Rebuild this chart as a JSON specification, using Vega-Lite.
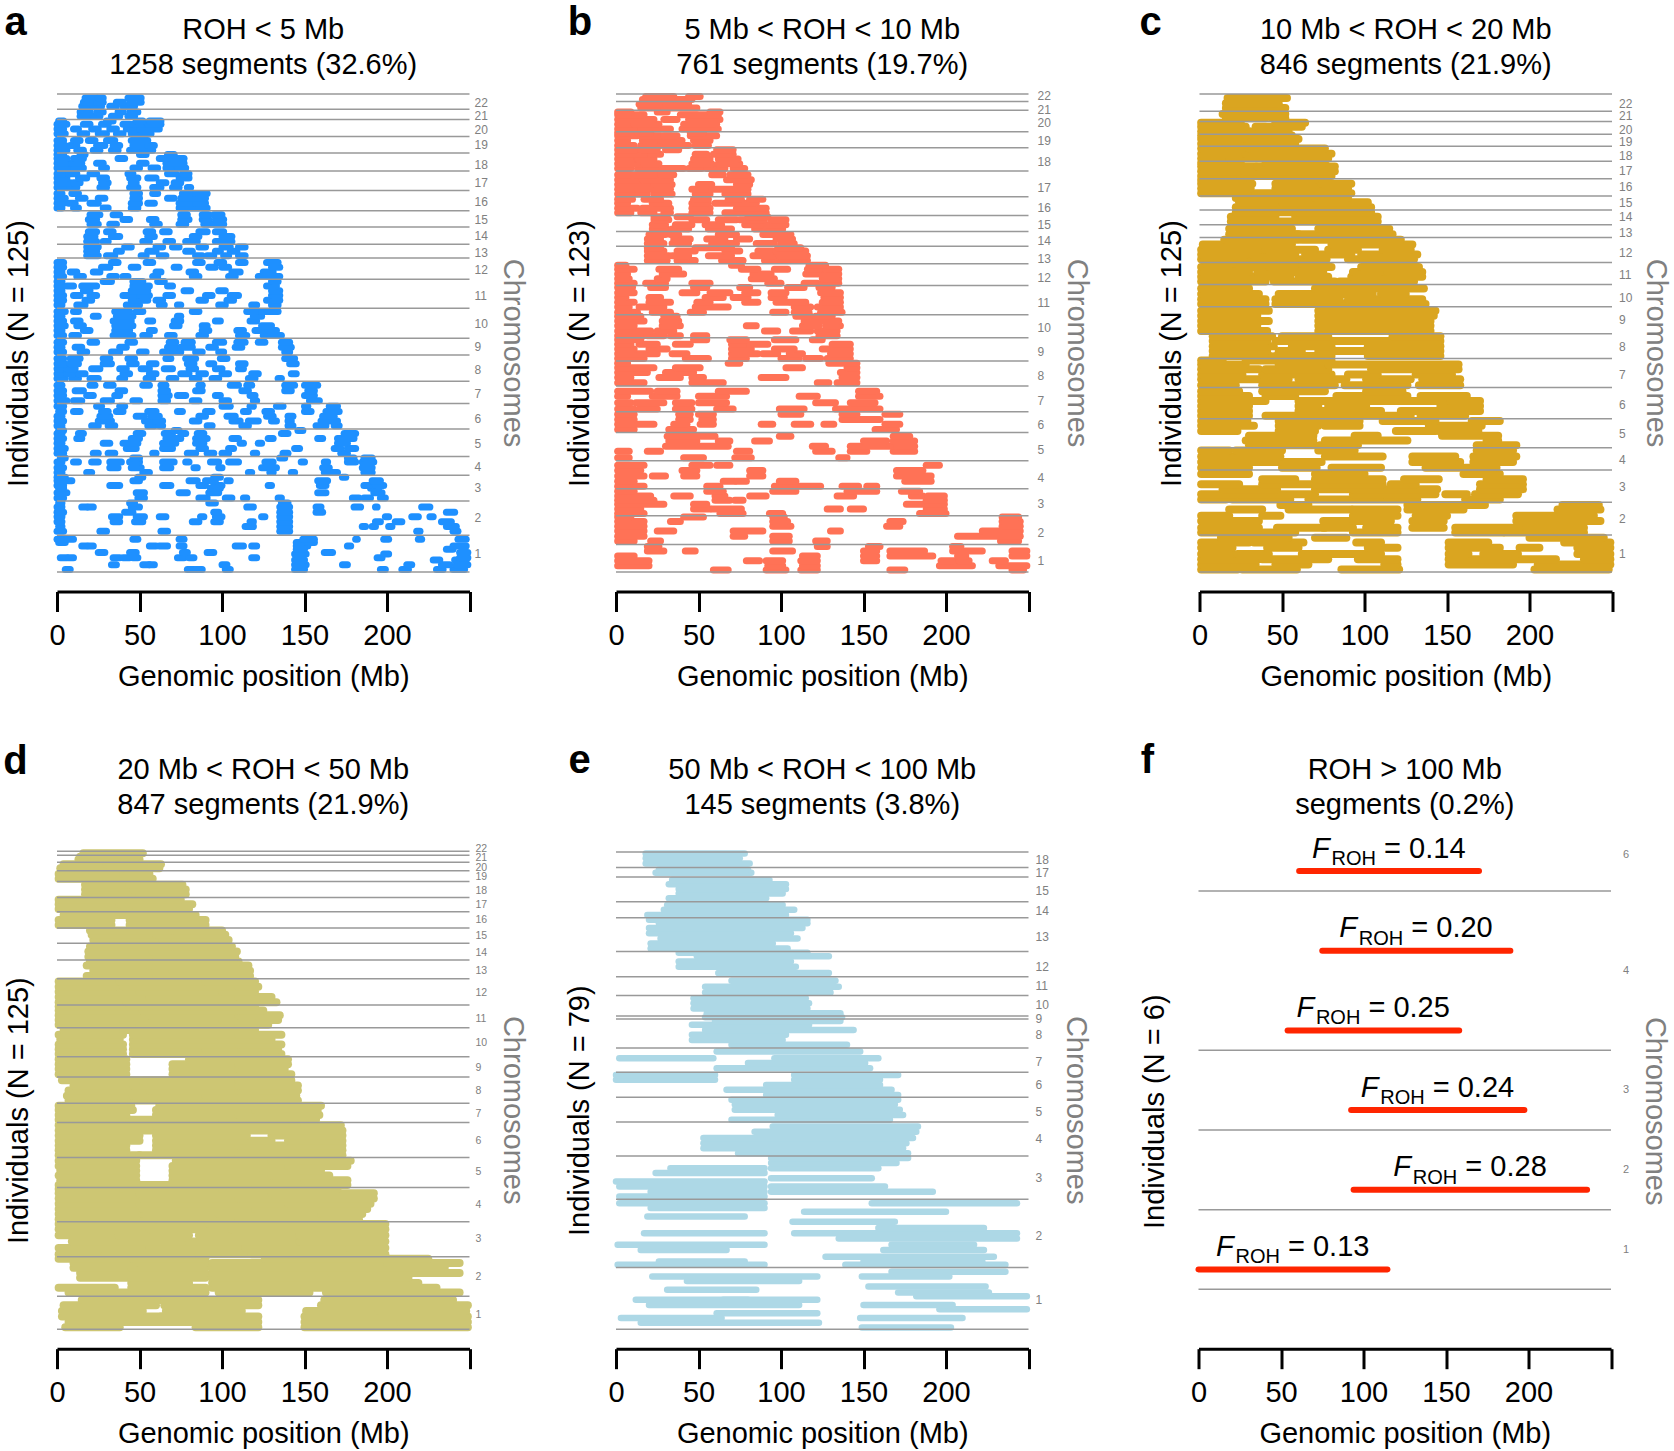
{
"$schema":"https://vega.github.io/schema/vega-lite/v6.json",
"padding":{"left":2,"top":2,"right":4,"bottom":0},
"config":{
"view":{"stroke":null},
"font":"Liberation Sans",
"axisX":{"domainColor":"#000000","domainWidth":3,"tickColor":"#000000","tickWidth":3,"tickSize":20,"labelFontSize":29,"labelColor":"#000000","labelPadding":10,"labelFont":"Liberation Sans","labelFlush":false,"labelOverlap":false,"titleFont":"Liberation Sans","titleFontSize":29,"titleFontWeight":"normal","titleColor":"#000000","titleY":71,"titleBaseline":"top","grid":false,"offset":19.5},
"axisY":{"domain":false,"ticks":false,"labels":false,"grid":false,"titleFont":"Liberation Sans","titleFontSize":29,"titleFontWeight":"normal","titleColor":"#000000","titleAlign":"center","titleBaseline":"middle"},
"text":{"font":"Liberation Sans"}
},
"datasets":{
"sa":[
{"y":0.6,"s":5,"e":8},{"y":0.6,"s":79,"e":83},{"y":0.6,"s":84,"e":88},{"y":0.6,"s":102,"e":105},{"y":0.6,"s":144,"e":150},{"y":0.6,"s":196,"e":199},{"y":0.6,"s":209,"e":213},{"y":0.6,"s":230,"e":234},{"y":0.6,"s":240,"e":247},
{"y":1.8,"s":33,"e":36},{"y":1.8,"s":52,"e":56},{"y":1.8,"s":56,"e":59},{"y":1.8,"s":100,"e":103},{"y":1.8,"s":144,"e":151},{"y":1.8,"s":173,"e":176},{"y":1.8,"s":212,"e":215},{"y":1.8,"s":233,"e":238},{"y":1.8,"s":242,"e":249},
{"y":3,"s":144,"e":150},{"y":3,"s":228,"e":232},{"y":3,"s":241,"e":248},
{"y":3.6,"s":2,"e":6},{"y":3.6,"s":7,"e":10},{"y":3.6,"s":34,"e":38},{"y":3.6,"s":40,"e":44},{"y":3.6,"s":46,"e":49},{"y":3.6,"s":73,"e":77},{"y":3.6,"s":80,"e":83},{"y":3.6,"s":118,"e":121},{"y":3.6,"s":194,"e":197},{"y":3.6,"s":244,"e":249},
{"y":4.5,"s":144,"e":151},{"y":4.5,"s":198,"e":201},
{"y":4.9,"s":25,"e":29},{"y":4.9,"s":44,"e":48},{"y":4.9,"s":76,"e":79},{"y":4.9,"s":91,"e":95},{"y":4.9,"s":162,"e":167},{"y":4.9,"s":244,"e":249},
{"y":5.7,"s":145,"e":150},{"y":5.7,"s":236,"e":240},
{"y":6.5,"s":15,"e":18},{"y":6.5,"s":19,"e":22},{"y":6.5,"s":56,"e":60},{"y":6.5,"s":62,"e":67},{"y":6.5,"s":74,"e":77},{"y":6.5,"s":108,"e":113},{"y":6.5,"s":118,"e":121},{"y":6.5,"s":145,"e":152},{"y":6.5,"s":176,"e":178},{"y":6.5,"s":240,"e":248},
{"y":7.4,"s":1,"e":5},{"y":7.4,"s":145,"e":150},{"y":7.4,"s":152,"e":156},
{"y":8.2,"s":0,"e":4},{"y":8.2,"s":6,"e":10},{"y":8.2,"s":46,"e":49},{"y":8.2,"s":74,"e":77},{"y":8.2,"s":149,"e":156},{"y":8.2,"s":181,"e":182},{"y":8.2,"s":198,"e":201},{"y":8.2,"s":219,"e":221},{"y":8.2,"s":243,"e":248},
{"y":10.2,"s":0,"e":4},{"y":10.2,"s":26,"e":30},{"y":10.2,"s":63,"e":67},{"y":10.2,"s":135,"e":141},{"y":10.2,"s":218,"e":220},{"y":10.2,"s":240,"e":243},
{"y":11.4,"s":1,"e":3},{"y":11.4,"s":114,"e":119},{"y":11.4,"s":135,"e":141},{"y":11.4,"s":185,"e":187},{"y":11.4,"s":191,"e":193},{"y":11.4,"s":201,"e":203},{"y":11.4,"s":236,"e":242},
{"y":12.6,"s":0,"e":3},{"y":12.6,"s":34,"e":38},{"y":12.6,"s":47,"e":52},{"y":12.6,"s":82,"e":86},{"y":12.6,"s":95,"e":99},{"y":12.6,"s":117,"e":119},{"y":12.6,"s":135,"e":141},{"y":12.6,"s":193,"e":196},{"y":12.6,"s":205,"e":209},{"y":12.6,"s":233,"e":239},
{"y":13.9,"s":0,"e":3},{"y":13.9,"s":33,"e":38},{"y":13.9,"s":48,"e":53},{"y":13.9,"s":62,"e":66},{"y":13.9,"s":87,"e":89},{"y":13.9,"s":96,"e":100},{"y":13.9,"s":124,"e":126},{"y":13.9,"s":135,"e":141},{"y":13.9,"s":199,"e":201},{"y":13.9,"s":215,"e":219},{"y":13.9,"s":226,"e":228},
{"y":15,"s":0,"e":4},{"y":15,"s":41,"e":46},{"y":15,"s":95,"e":98},{"y":15,"s":135,"e":141},{"y":15,"s":157,"e":161},{"y":15,"s":236,"e":241},
{"y":16.3,"s":0,"e":3},{"y":16.3,"s":15,"e":18},{"y":16.3,"s":19,"e":22},{"y":16.3,"s":45,"e":50},{"y":16.3,"s":115,"e":119},{"y":16.3,"s":135,"e":141},{"y":16.3,"s":157,"e":160},{"y":16.3,"s":180,"e":184},{"y":16.3,"s":193,"e":194},{"y":16.3,"s":221,"e":226},
{"y":17.3,"s":1,"e":3},{"y":17.3,"s":44,"e":47},{"y":17.3,"s":92,"e":96},{"y":17.3,"s":136,"e":140},
{"y":18.6,"s":0,"e":4},{"y":18.6,"s":49,"e":53},{"y":18.6,"s":86,"e":91},{"y":18.6,"s":102,"e":106},{"y":18.6,"s":113,"e":115},{"y":18.6,"s":134,"e":136},{"y":18.6,"s":179,"e":183},{"y":18.6,"s":186,"e":190},{"y":18.6,"s":196,"e":199},
{"y":19.9,"s":0,"e":6},{"y":19.9,"s":48,"e":53},{"y":19.9,"s":74,"e":79},{"y":19.9,"s":92,"e":98},{"y":19.9,"s":158,"e":163},{"y":19.9,"s":192,"e":197},
{"y":21,"s":1,"e":4},{"y":21,"s":93,"e":99},{"y":21,"s":190,"e":195},
{"y":21.7,"s":0,"e":4},{"y":21.7,"s":32,"e":38},{"y":21.7,"s":64,"e":69},{"y":21.7,"s":86,"e":90},{"y":21.7,"s":95,"e":100},{"y":21.7,"s":128,"e":130},{"y":21.7,"s":159,"e":163},{"y":21.7,"s":186,"e":190},{"y":21.7,"s":193,"e":198},
{"y":22.9,"s":0,"e":9},{"y":22.9,"s":46,"e":50},{"y":22.9,"s":80,"e":85},{"y":22.9,"s":90,"e":96},{"y":22.9,"s":103,"e":105},{"y":22.9,"s":158,"e":164},{"y":22.9,"s":191,"e":196},
{"y":23.8,"s":0,"e":5},{"y":23.8,"s":49,"e":52},{"y":23.8,"s":95,"e":99},{"y":23.8,"s":173,"e":175},
{"y":25,"s":0,"e":3},{"y":25,"s":18,"e":21},{"y":25,"s":52,"e":56},{"y":25,"s":116,"e":118},{"y":25,"s":129,"e":131},{"y":25,"s":142,"e":144},{"y":25,"s":162,"e":170},{"y":25,"s":186,"e":191},
{"y":26.2,"s":0,"e":4},{"y":26.2,"s":32,"e":37},{"y":26.2,"s":45,"e":51},{"y":26.2,"s":64,"e":69},{"y":26.2,"s":83,"e":85},{"y":26.2,"s":98,"e":100},{"y":26.2,"s":124,"e":133},{"y":26.2,"s":161,"e":165},{"y":26.2,"s":185,"e":191},
{"y":27.6,"s":0,"e":3},{"y":27.6,"s":10,"e":13},{"y":27.6,"s":21,"e":25},{"y":27.6,"s":32,"e":39},{"y":27.6,"s":44,"e":50},{"y":27.6,"s":64,"e":71},{"y":27.6,"s":78,"e":80},{"y":27.6,"s":93,"e":98},{"y":27.6,"s":104,"e":110},{"y":27.6,"s":126,"e":131},{"y":27.6,"s":148,"e":150},{"y":27.6,"s":162,"e":164},{"y":27.6,"s":176,"e":181},{"y":27.6,"s":185,"e":192},
{"y":28.6,"s":2,"e":5},{"y":28.6,"s":46,"e":50},{"y":28.6,"s":135,"e":138},{"y":28.6,"s":176,"e":180},{"y":28.6,"s":186,"e":191},
{"y":29.8,"s":0,"e":4},{"y":29.8,"s":22,"e":25},{"y":29.8,"s":31,"e":35},{"y":29.8,"s":58,"e":60},{"y":29.8,"s":79,"e":84},{"y":29.8,"s":91,"e":95},{"y":29.8,"s":100,"e":104},{"y":29.8,"s":119,"e":121},{"y":29.8,"s":137,"e":140},{"y":29.8,"s":172,"e":176},
{"y":31,"s":0,"e":5},{"y":31,"s":42,"e":48},{"y":31,"s":64,"e":70},{"y":31,"s":86,"e":90},{"y":31,"s":104,"e":107},{"y":31,"s":144,"e":147},{"y":31,"s":168,"e":172},{"y":31,"s":176,"e":181},
{"y":32.3,"s":0,"e":3},{"y":32.3,"s":28,"e":32},{"y":32.3,"s":40,"e":49},{"y":32.3,"s":64,"e":72},{"y":32.3,"s":84,"e":89},{"y":32.3,"s":111,"e":113},{"y":32.3,"s":122,"e":124},{"y":32.3,"s":170,"e":176},
{"y":33.5,"s":0,"e":4},{"y":33.5,"s":12,"e":15},{"y":33.5,"s":45,"e":50},{"y":33.5,"s":66,"e":75},{"y":33.5,"s":84,"e":91},{"y":33.5,"s":106,"e":110},{"y":33.5,"s":128,"e":131},{"y":33.5,"s":158,"e":161},{"y":33.5,"s":170,"e":180},
{"y":34.8,"s":0,"e":3},{"y":34.8,"s":13,"e":16},{"y":34.8,"s":48,"e":52},{"y":34.8,"s":65,"e":70},{"y":34.8,"s":75,"e":78},{"y":34.8,"s":85,"e":89},{"y":34.8,"s":136,"e":140},{"y":34.8,"s":174,"e":181},
{"y":35.5,"s":1,"e":4},{"y":35.5,"s":71,"e":74},{"y":35.5,"s":146,"e":149},
{"y":36.7,"s":0,"e":3},{"y":36.7,"s":21,"e":25},{"y":36.7,"s":31,"e":35},{"y":36.7,"s":55,"e":59},{"y":36.7,"s":62,"e":64},{"y":36.7,"s":91,"e":94},{"y":36.7,"s":112,"e":116},{"y":36.7,"s":140,"e":143},{"y":36.7,"s":157,"e":163},{"y":36.7,"s":168,"e":171},
{"y":37.9,"s":0,"e":4},{"y":37.9,"s":25,"e":33},{"y":37.9,"s":53,"e":58},{"y":37.9,"s":60,"e":64},{"y":37.9,"s":82,"e":86},{"y":37.9,"s":106,"e":111},{"y":37.9,"s":116,"e":122},{"y":37.9,"s":130,"e":133},{"y":37.9,"s":140,"e":142},{"y":37.9,"s":160,"e":170},
{"y":39.1,"s":0,"e":3},{"y":39.1,"s":26,"e":32},{"y":39.1,"s":48,"e":53},{"y":39.1,"s":57,"e":62},{"y":39.1,"s":86,"e":90},{"y":39.1,"s":103,"e":108},{"y":39.1,"s":127,"e":131},{"y":39.1,"s":140,"e":143},{"y":39.1,"s":161,"e":168},
{"y":40.3,"s":1,"e":4},{"y":40.3,"s":10,"e":14},{"y":40.3,"s":27,"e":31},{"y":40.3,"s":36,"e":40},{"y":40.3,"s":55,"e":60},{"y":40.3,"s":73,"e":76},{"y":40.3,"s":90,"e":94},{"y":40.3,"s":113,"e":116},{"y":40.3,"s":126,"e":130},{"y":40.3,"s":150,"e":154},{"y":40.3,"s":163,"e":171},
{"y":41.6,"s":0,"e":4},{"y":41.6,"s":24,"e":27},{"y":41.6,"s":38,"e":41},{"y":41.6,"s":100,"e":105},{"y":41.6,"s":117,"e":119},{"y":41.6,"s":133,"e":137},{"y":41.6,"s":150,"e":152},{"y":41.6,"s":165,"e":170},
{"y":43,"s":0,"e":6},{"y":43,"s":10,"e":15},{"y":43,"s":28,"e":33},{"y":43,"s":46,"e":50},{"y":43,"s":63,"e":67},{"y":43,"s":82,"e":86},{"y":43,"s":100,"e":104},{"y":43,"s":119,"e":121},{"y":43,"s":153,"e":159},
{"y":44.3,"s":0,"e":4},{"y":44.3,"s":18,"e":22},{"y":44.3,"s":35,"e":38},{"y":44.3,"s":63,"e":68},{"y":44.3,"s":73,"e":78},{"y":44.3,"s":96,"e":99},{"y":44.3,"s":117,"e":120},{"y":44.3,"s":150,"e":156},
{"y":45.5,"s":0,"e":4},{"y":45.5,"s":11,"e":16},{"y":45.5,"s":37,"e":41},{"y":45.5,"s":63,"e":67},{"y":45.5,"s":84,"e":88},{"y":45.5,"s":112,"e":116},{"y":45.5,"s":138,"e":142},{"y":45.5,"s":152,"e":156},
{"y":46.9,"s":0,"e":3},{"y":46.9,"s":20,"e":23},{"y":46.9,"s":30,"e":34},{"y":46.9,"s":52,"e":56},{"y":46.9,"s":63,"e":66},{"y":46.9,"s":86,"e":88},{"y":46.9,"s":105,"e":110},{"y":46.9,"s":115,"e":118},{"y":46.9,"s":138,"e":144},{"y":46.9,"s":150,"e":158},
{"y":48.6,"s":0,"e":5},{"y":48.6,"s":9,"e":13},{"y":48.6,"s":20,"e":25},{"y":48.6,"s":38,"e":41},{"y":48.6,"s":54,"e":58},{"y":48.6,"s":68,"e":72},{"y":48.6,"s":82,"e":86},{"y":48.6,"s":94,"e":98},{"y":48.6,"s":116,"e":120},{"y":48.6,"s":134,"e":136},
{"y":49.8,"s":0,"e":4},{"y":49.8,"s":6,"e":10},{"y":49.8,"s":13,"e":17},{"y":49.8,"s":40,"e":44},{"y":49.8,"s":56,"e":60},{"y":49.8,"s":75,"e":80},{"y":49.8,"s":86,"e":90},{"y":49.8,"s":100,"e":104},{"y":49.8,"s":118,"e":122},{"y":49.8,"s":142,"e":145},
{"y":51,"s":0,"e":3},{"y":51,"s":6,"e":11},{"y":51,"s":21,"e":26},{"y":51,"s":38,"e":42},{"y":51,"s":51,"e":56},{"y":51,"s":65,"e":70},{"y":51,"s":80,"e":84},{"y":51,"s":96,"e":100},{"y":51,"s":110,"e":113},
{"y":52.3,"s":0,"e":5},{"y":52.3,"s":8,"e":13},{"y":52.3,"s":28,"e":33},{"y":52.3,"s":44,"e":48},{"y":52.3,"s":56,"e":60},{"y":52.3,"s":79,"e":83},{"y":52.3,"s":92,"e":95},{"y":52.3,"s":110,"e":114},{"y":52.3,"s":141,"e":145},
{"y":53.6,"s":0,"e":4},{"y":53.6,"s":8,"e":14},{"y":53.6,"s":28,"e":32},{"y":53.6,"s":43,"e":47},{"y":53.6,"s":66,"e":69},{"y":53.6,"s":78,"e":84},{"y":53.6,"s":99,"e":103},{"y":53.6,"s":138,"e":144},
{"y":55.2,"s":0,"e":4},{"y":55.2,"s":14,"e":18},{"y":55.2,"s":33,"e":38},{"y":55.2,"s":50,"e":54},{"y":55.2,"s":64,"e":69},{"y":55.2,"s":70,"e":75},{"y":55.2,"s":84,"e":88},{"y":55.2,"s":98,"e":101},{"y":55.2,"s":138,"e":141},
{"y":56.4,"s":0,"e":3},{"y":56.4,"s":11,"e":15},{"y":56.4,"s":38,"e":42},{"y":56.4,"s":67,"e":72},{"y":56.4,"s":75,"e":82},{"y":56.4,"s":92,"e":96},{"y":56.4,"s":108,"e":112},{"y":56.4,"s":136,"e":142},
{"y":57.7,"s":0,"e":4},{"y":57.7,"s":20,"e":24},{"y":57.7,"s":43,"e":47},{"y":57.7,"s":68,"e":72},{"y":57.7,"s":77,"e":82},{"y":57.7,"s":96,"e":101},{"y":57.7,"s":109,"e":114},{"y":57.7,"s":122,"e":126},{"y":57.7,"s":136,"e":141},
{"y":59.4,"s":0,"e":4},{"y":59.4,"s":9,"e":13},{"y":59.4,"s":34,"e":46},{"y":59.4,"s":52,"e":56},{"y":59.4,"s":67,"e":71},{"y":59.4,"s":86,"e":90},{"y":59.4,"s":110,"e":115},{"y":59.4,"s":125,"e":128},{"y":59.4,"s":129,"e":136},
{"y":60.6,"s":0,"e":3},{"y":60.6,"s":16,"e":20},{"y":60.6,"s":35,"e":44},{"y":60.6,"s":56,"e":59},{"y":60.6,"s":88,"e":92},{"y":60.6,"s":109,"e":113},{"y":60.6,"s":120,"e":125},{"y":60.6,"s":128,"e":133},
{"y":61.8,"s":0,"e":5},{"y":61.8,"s":12,"e":16},{"y":61.8,"s":35,"e":46},{"y":61.8,"s":70,"e":74},{"y":61.8,"s":88,"e":91},{"y":61.8,"s":124,"e":130},
{"y":63,"s":0,"e":4},{"y":63,"s":10,"e":14},{"y":63,"s":34,"e":45},{"y":63,"s":55,"e":58},{"y":63,"s":71,"e":75},{"y":63,"s":96,"e":99},{"y":63,"s":117,"e":121},
{"y":64.2,"s":0,"e":3},{"y":64.2,"s":22,"e":25},{"y":64.2,"s":36,"e":46},{"y":64.2,"s":73,"e":75},{"y":64.2,"s":119,"e":124},
{"y":65.4,"s":0,"e":5},{"y":65.4,"s":10,"e":13},{"y":65.4,"s":35,"e":44},{"y":65.4,"s":48,"e":52},{"y":65.4,"s":82,"e":86},{"y":65.4,"s":115,"e":121},{"y":65.4,"s":124,"e":127},{"y":65.4,"s":128,"e":134},
{"y":67,"s":0,"e":3},{"y":67,"s":12,"e":17},{"y":67,"s":42,"e":50},{"y":67,"s":62,"e":65},{"y":67,"s":73,"e":75},{"y":67,"s":98,"e":102},{"y":67,"s":118,"e":121},{"y":67,"s":130,"e":134},
{"y":68.2,"s":0,"e":4},{"y":68.2,"s":17,"e":21},{"y":68.2,"s":45,"e":55},{"y":68.2,"s":60,"e":64},{"y":68.2,"s":86,"e":90},{"y":68.2,"s":103,"e":107},{"y":68.2,"s":127,"e":135},
{"y":69.4,"s":0,"e":4},{"y":69.4,"s":10,"e":14},{"y":69.4,"s":20,"e":24},{"y":69.4,"s":40,"e":48},{"y":69.4,"s":50,"e":56},{"y":69.4,"s":66,"e":70},{"y":69.4,"s":90,"e":94},{"y":69.4,"s":105,"e":110},{"y":69.4,"s":130,"e":135},
{"y":70.6,"s":0,"e":3},{"y":70.6,"s":16,"e":20},{"y":70.6,"s":45,"e":55},{"y":70.6,"s":77,"e":81},{"y":70.6,"s":98,"e":102},{"y":70.6,"s":130,"e":135},
{"y":71.8,"s":0,"e":4},{"y":71.8,"s":6,"e":10},{"y":71.8,"s":15,"e":24},{"y":71.8,"s":46,"e":56},{"y":71.8,"s":67,"e":70},{"y":71.8,"s":127,"e":133},
{"y":72.9,"s":0,"e":3},{"y":72.9,"s":28,"e":33},{"y":72.9,"s":46,"e":52},{"y":72.9,"s":61,"e":65},{"y":72.9,"s":130,"e":134},
{"y":74.2,"s":0,"e":4},{"y":74.2,"s":12,"e":16},{"y":74.2,"s":32,"e":36},{"y":74.2,"s":40,"e":43},{"y":74.2,"s":58,"e":61},{"y":74.2,"s":82,"e":86},{"y":74.2,"s":104,"e":108},{"y":74.2,"s":122,"e":127},{"y":74.2,"s":129,"e":135},
{"y":75.3,"s":0,"e":3},{"y":75.3,"s":8,"e":12},{"y":75.3,"s":22,"e":26},{"y":75.3,"s":60,"e":63},{"y":75.3,"s":80,"e":84},{"y":75.3,"s":106,"e":111},{"y":75.3,"s":125,"e":131},
{"y":76.5,"s":0,"e":4},{"y":76.5,"s":27,"e":32},{"y":76.5,"s":45,"e":49},{"y":76.5,"s":71,"e":74},{"y":76.5,"s":92,"e":96},{"y":76.5,"s":100,"e":104},{"y":76.5,"s":130,"e":135},
{"y":77.7,"s":0,"e":4},{"y":77.7,"s":33,"e":37},{"y":77.7,"s":54,"e":58},{"y":77.7,"s":84,"e":88},{"y":77.7,"s":97,"e":101},{"y":77.7,"s":110,"e":114},{"y":77.7,"s":127,"e":134},
{"y":79.4,"s":18,"e":25},{"y":79.4,"s":30,"e":35},{"y":79.4,"s":51,"e":54},{"y":79.4,"s":62,"e":66},{"y":79.4,"s":84,"e":88},{"y":79.4,"s":91,"e":95},{"y":79.4,"s":101,"e":104},{"y":79.4,"s":110,"e":114},
{"y":80.5,"s":18,"e":24},{"y":80.5,"s":36,"e":39},{"y":80.5,"s":55,"e":60},{"y":80.5,"s":78,"e":82},{"y":80.5,"s":96,"e":99},{"y":80.5,"s":105,"e":109},
{"y":81.6,"s":18,"e":25},{"y":81.6,"s":41,"e":45},{"y":81.6,"s":60,"e":64},{"y":81.6,"s":70,"e":74},{"y":81.6,"s":86,"e":90},{"y":81.6,"s":100,"e":105},{"y":81.6,"s":110,"e":114},
{"y":83,"s":18,"e":24},{"y":83,"s":28,"e":31},{"y":83,"s":52,"e":56},{"y":83,"s":66,"e":70},{"y":83,"s":78,"e":85},{"y":83,"s":96,"e":100},{"y":83,"s":101,"e":106},
{"y":84.2,"s":18,"e":23},{"y":84.2,"s":33,"e":38},{"y":84.2,"s":55,"e":59},{"y":84.2,"s":82,"e":86},{"y":84.2,"s":100,"e":106},
{"y":85.4,"s":19,"e":24},{"y":85.4,"s":30,"e":34},{"y":85.4,"s":54,"e":58},{"y":85.4,"s":64,"e":68},{"y":85.4,"s":86,"e":91},{"y":85.4,"s":96,"e":101},
{"y":87.3,"s":20,"e":25},{"y":87.3,"s":32,"e":36},{"y":87.3,"s":58,"e":62},{"y":87.3,"s":74,"e":78},{"y":87.3,"s":89,"e":94},{"y":87.3,"s":95,"e":101},
{"y":88.5,"s":19,"e":24},{"y":88.5,"s":40,"e":44},{"y":88.5,"s":56,"e":60},{"y":88.5,"s":75,"e":80},{"y":88.5,"s":88,"e":92},{"y":88.5,"s":96,"e":101},
{"y":89.7,"s":20,"e":26},{"y":89.7,"s":34,"e":38},{"y":89.7,"s":75,"e":79},{"y":89.7,"s":88,"e":92},{"y":89.7,"s":95,"e":100},
{"y":91.4,"s":0,"e":3},{"y":91.4,"s":10,"e":13},{"y":91.4,"s":28,"e":31},{"y":91.4,"s":45,"e":49},{"y":91.4,"s":74,"e":91},
{"y":92.6,"s":0,"e":4},{"y":92.6,"s":7,"e":11},{"y":92.6,"s":20,"e":25},{"y":92.6,"s":45,"e":50},{"y":92.6,"s":55,"e":59},{"y":92.6,"s":74,"e":82},{"y":92.6,"s":84,"e":90},
{"y":93.8,"s":0,"e":5},{"y":93.8,"s":13,"e":17},{"y":93.8,"s":25,"e":29},{"y":93.8,"s":46,"e":50},{"y":93.8,"s":67,"e":71},{"y":93.8,"s":75,"e":90},
{"y":95,"s":0,"e":3},{"y":95,"s":9,"e":13},{"y":95,"s":46,"e":50},{"y":95,"s":58,"e":61},{"y":95,"s":76,"e":82},{"y":95,"s":84,"e":91},
{"y":96.5,"s":0,"e":5},{"y":96.5,"s":8,"e":12},{"y":96.5,"s":26,"e":30},{"y":96.5,"s":44,"e":49},{"y":96.5,"s":58,"e":63},{"y":96.5,"s":70,"e":74},{"y":96.5,"s":79,"e":81},
{"y":97.7,"s":0,"e":8},{"y":97.7,"s":10,"e":14},{"y":97.7,"s":27,"e":31},{"y":97.7,"s":45,"e":48},{"y":97.7,"s":62,"e":66},{"y":97.7,"s":71,"e":75},
{"y":98.9,"s":0,"e":6},{"y":98.9,"s":13,"e":18},{"y":98.9,"s":26,"e":30},{"y":98.9,"s":44,"e":49},{"y":98.9,"s":55,"e":60},{"y":98.9,"s":74,"e":80},
{"y":100,"s":0,"e":4},{"y":100,"s":7,"e":12},{"y":100,"s":20,"e":24},{"y":100,"s":43,"e":46},{"y":100,"s":67,"e":72},{"y":100,"s":76,"e":80},
{"y":101.4,"s":0,"e":8},{"y":101.4,"s":10,"e":16},{"y":101.4,"s":27,"e":30},{"y":101.4,"s":46,"e":50},{"y":101.4,"s":57,"e":61},{"y":101.4,"s":66,"e":72},{"y":101.4,"s":73,"e":78},
{"y":102.6,"s":0,"e":7},{"y":102.6,"s":9,"e":15},{"y":102.6,"s":24,"e":28},{"y":102.6,"s":50,"e":54},{"y":102.6,"s":66,"e":77},
{"y":103.8,"s":0,"e":6},{"y":103.8,"s":10,"e":16},{"y":103.8,"s":37,"e":41},{"y":103.8,"s":62,"e":67},{"y":103.8,"s":69,"e":77},
{"y":104.8,"s":0,"e":4},{"y":104.8,"s":14,"e":17},{"y":104.8,"s":50,"e":54},{"y":104.8,"s":67,"e":71},
{"y":105.9,"s":0,"e":6},{"y":105.9,"s":12,"e":16},{"y":105.9,"s":22,"e":26},{"y":105.9,"s":33,"e":37},{"y":105.9,"s":44,"e":49},{"y":105.9,"s":52,"e":58},
{"y":107.1,"s":0,"e":5},{"y":107.1,"s":8,"e":12},{"y":107.1,"s":24,"e":29},{"y":107.1,"s":34,"e":38},{"y":107.1,"s":46,"e":54},{"y":107.1,"s":55,"e":59},
{"y":108.3,"s":0,"e":4},{"y":108.3,"s":10,"e":14},{"y":108.3,"s":19,"e":23},{"y":108.3,"s":30,"e":35},{"y":108.3,"s":45,"e":55},
{"y":110,"s":0,"e":5},{"y":110,"s":14,"e":18},{"y":110,"s":25,"e":30},{"y":110,"s":36,"e":40},{"y":110,"s":45,"e":57},
{"y":111.2,"s":0,"e":4},{"y":111.2,"s":10,"e":13},{"y":111.2,"s":21,"e":25},{"y":111.2,"s":32,"e":36},{"y":111.2,"s":42,"e":48},{"y":111.2,"s":50,"e":62},
{"y":112.4,"s":0,"e":6},{"y":112.4,"s":16,"e":20},{"y":112.4,"s":27,"e":31},{"y":112.4,"s":40,"e":44},{"y":112.4,"s":46,"e":53},{"y":112.4,"s":55,"e":63},
{"y":113.2,"s":1,"e":4},{"y":113.2,"s":30,"e":34},{"y":113.2,"s":48,"e":52},{"y":113.2,"s":56,"e":63},
{"y":114.4,"s":14,"e":19},{"y":114.4,"s":22,"e":26},{"y":114.4,"s":33,"e":38},{"y":114.4,"s":43,"e":47},
{"y":115.5,"s":14,"e":20},{"y":115.5,"s":24,"e":28},{"y":115.5,"s":37,"e":40},{"y":115.5,"s":44,"e":49},
{"y":116.9,"s":15,"e":19},{"y":116.9,"s":22,"e":27},{"y":116.9,"s":32,"e":36},{"y":116.9,"s":40,"e":47},
{"y":117.9,"s":16,"e":22},{"y":117.9,"s":24,"e":28},{"y":117.9,"s":36,"e":40},{"y":117.9,"s":44,"e":51},
{"y":119,"s":17,"e":24},{"y":119,"s":25,"e":28},{"y":119,"s":43,"e":51}
],
"sb":[
{"y":0.5,"s":59,"e":68},{"y":0.5,"s":91,"e":103},{"y":0.5,"s":112,"e":122},{"y":0.5,"s":166,"e":175},{"y":0.5,"s":240,"e":247},
{"y":1.6,"s":1,"e":20},{"y":1.6,"s":92,"e":101},{"y":1.6,"s":113,"e":122},{"y":1.6,"s":196,"e":216},{"y":1.6,"s":232,"e":249},
{"y":2.8,"s":1,"e":20},{"y":2.8,"s":79,"e":87},{"y":2.8,"s":91,"e":101},{"y":2.8,"s":112,"e":122},{"y":2.8,"s":150,"e":158},{"y":2.8,"s":197,"e":205},{"y":2.8,"s":208,"e":214},{"y":2.8,"s":228,"e":236},
{"y":4,"s":1,"e":11},{"y":4,"s":113,"e":122},{"y":4,"s":150,"e":158},{"y":4,"s":166,"e":192},{"y":4,"s":207,"e":212},{"y":4,"s":240,"e":249},
{"y":5.3,"s":19,"e":29},{"y":5.3,"s":42,"e":48},{"y":5.3,"s":95,"e":107},{"y":5.3,"s":150,"e":158},{"y":5.3,"s":166,"e":187},{"y":5.3,"s":204,"e":222},{"y":5.3,"s":240,"e":249},
{"y":6.4,"s":19,"e":26},{"y":6.4,"s":122,"e":128},{"y":6.4,"s":153,"e":160},{"y":6.4,"s":204,"e":209},
{"y":7.8,"s":1,"e":11},{"y":7.8,"s":21,"e":27},{"y":7.8,"s":95,"e":105},{"y":7.8,"s":121,"e":128},{"y":7.8,"s":233,"e":244},
{"y":9,"s":1,"e":17},{"y":9,"s":71,"e":78},{"y":9,"s":95,"e":105},{"y":9,"s":207,"e":245},
{"y":10.3,"s":1,"e":17},{"y":10.3,"s":25,"e":35},{"y":10.3,"s":71,"e":89},{"y":10.3,"s":130,"e":136},{"y":10.3,"s":222,"e":245},
{"y":11.5,"s":1,"e":17},{"y":11.5,"s":95,"e":106},{"y":11.5,"s":164,"e":172},{"y":11.5,"s":234,"e":245},
{"y":12.7,"s":1,"e":17},{"y":12.7,"s":33,"e":39},{"y":12.7,"s":95,"e":104},{"y":12.7,"s":166,"e":174},{"y":12.7,"s":234,"e":245},
{"y":13.8,"s":1,"e":9},{"y":13.8,"s":41,"e":53},{"y":13.8,"s":95,"e":102},{"y":13.8,"s":234,"e":244},
{"y":14.7,"s":1,"e":17},{"y":14.7,"s":63,"e":77},{"y":14.7,"s":93,"e":101},{"y":14.7,"s":184,"e":200},
{"y":15.8,"s":1,"e":15},{"y":15.8,"s":47,"e":57},{"y":15.8,"s":58,"e":76},{"y":15.8,"s":128,"e":136},{"y":15.8,"s":142,"e":150},{"y":15.8,"s":188,"e":199},
{"y":17,"s":1,"e":29},{"y":17,"s":47,"e":55},{"y":17,"s":176,"e":187},{"y":17,"s":189,"e":199},
{"y":18,"s":1,"e":23},{"y":18,"s":60,"e":69},{"y":18,"s":72,"e":77},{"y":18,"s":188,"e":199},
{"y":19.1,"s":1,"e":21},{"y":19.1,"s":35,"e":45},{"y":19.1,"s":60,"e":66},{"y":19.1,"s":81,"e":91},{"y":19.1,"s":134,"e":144},{"y":19.1,"s":179,"e":186},{"y":19.1,"s":189,"e":199},
{"y":20.3,"s":1,"e":11},{"y":20.3,"s":55,"e":65},{"y":20.3,"s":95,"e":109},{"y":20.3,"s":140,"e":158},{"y":20.3,"s":173,"e":184},
{"y":21.5,"s":1,"e":17},{"y":21.5,"s":55,"e":63},{"y":21.5,"s":96,"e":124},{"y":21.5,"s":137,"e":147},{"y":21.5,"s":152,"e":158},
{"y":22.8,"s":1,"e":11},{"y":22.8,"s":65,"e":72},{"y":22.8,"s":73,"e":79},{"y":22.8,"s":99,"e":109},{"y":22.8,"s":175,"e":191},
{"y":24.1,"s":1,"e":17},{"y":24.1,"s":22,"e":30},{"y":24.1,"s":41,"e":49},{"y":24.1,"s":81,"e":89},{"y":24.1,"s":170,"e":191},
{"y":25.5,"s":1,"e":15},{"y":25.5,"s":40,"e":49},{"y":25.5,"s":81,"e":89},{"y":25.5,"s":170,"e":186},
{"y":26.8,"s":1,"e":17},{"y":26.8,"s":46,"e":57},{"y":26.8,"s":61,"e":69},{"y":26.8,"s":188,"e":196},
{"y":28.7,"s":1,"e":8},{"y":28.7,"s":41,"e":53},{"y":28.7,"s":72,"e":82},{"y":28.7,"s":135,"e":140},
{"y":30.3,"s":1,"e":8},{"y":30.3,"s":19,"e":27},{"y":30.3,"s":73,"e":81},{"y":30.3,"s":121,"e":131},{"y":30.3,"s":142,"e":152},{"y":30.3,"s":168,"e":181},
{"y":31.6,"s":30,"e":68},{"y":31.6,"s":119,"e":127},{"y":31.6,"s":142,"e":167},{"y":31.6,"s":170,"e":181},
{"y":32.9,"s":32,"e":49},{"y":32.9,"s":62,"e":69},{"y":32.9,"s":84,"e":93},{"y":32.9,"s":150,"e":164},{"y":32.9,"s":168,"e":181},
{"y":34.1,"s":31,"e":60},{"y":34.1,"s":99,"e":106},{"y":34.1,"s":168,"e":178},
{"y":35.8,"s":1,"e":11},{"y":35.8,"s":32,"e":47},{"y":35.8,"s":157,"e":170},
{"y":37.1,"s":1,"e":23},{"y":37.1,"s":35,"e":43},{"y":37.1,"s":51,"e":59},{"y":37.1,"s":88,"e":95},{"y":37.1,"s":108,"e":118},{"y":37.1,"s":126,"e":132},{"y":37.1,"s":163,"e":172},
{"y":38.3,"s":1,"e":11},{"y":38.3,"s":38,"e":45},{"y":38.3,"s":52,"e":59},{"y":38.3,"s":137,"e":160},
{"y":39.6,"s":1,"e":11},{"y":39.6,"s":38,"e":45},{"y":39.6,"s":50,"e":59},{"y":39.6,"s":100,"e":112},{"y":39.6,"s":137,"e":146},{"y":39.6,"s":163,"e":172},
{"y":40.9,"s":1,"e":11},{"y":40.9,"s":14,"e":25},{"y":40.9,"s":36,"e":46},{"y":40.9,"s":61,"e":71},{"y":40.9,"s":99,"e":114},{"y":40.9,"s":133,"e":160},
{"y":42.5,"s":1,"e":9},{"y":42.5,"s":12,"e":29},{"y":42.5,"s":36,"e":46},{"y":42.5,"s":50,"e":67},{"y":42.5,"s":121,"e":133},{"y":42.5,"s":142,"e":157},
{"y":44.1,"s":1,"e":7},{"y":44.1,"s":22,"e":37},{"y":44.1,"s":50,"e":67},{"y":44.1,"s":111,"e":122},{"y":44.1,"s":147,"e":160},
{"y":45.4,"s":1,"e":21},{"y":45.4,"s":25,"e":37},{"y":45.4,"s":62,"e":79},{"y":45.4,"s":147,"e":158},
{"y":47.5,"s":1,"e":17},{"y":47.5,"s":46,"e":65},{"y":47.5,"s":122,"e":129},{"y":47.5,"s":134,"e":146},
{"y":48.8,"s":1,"e":9},{"y":48.8,"s":26,"e":39},{"y":48.8,"s":46,"e":53},{"y":48.8,"s":88,"e":103},{"y":48.8,"s":137,"e":146},
{"y":50.1,"s":1,"e":19},{"y":50.1,"s":30,"e":47},{"y":50.1,"s":136,"e":146},
{"y":51.3,"s":1,"e":23},{"y":51.3,"s":36,"e":51},{"y":51.3,"s":103,"e":113},{"y":51.3,"s":140,"e":146},
{"y":52.4,"s":1,"e":7},{"y":52.4,"s":68,"e":75},{"y":52.4,"s":129,"e":146},
{"y":53.6,"s":1,"e":17},{"y":53.6,"s":42,"e":56},{"y":53.6,"s":70,"e":79},{"y":53.6,"s":100,"e":111},{"y":53.6,"s":115,"e":124},{"y":53.6,"s":128,"e":142},
{"y":54.8,"s":1,"e":25},{"y":54.8,"s":34,"e":43},{"y":54.8,"s":70,"e":86},{"y":54.8,"s":89,"e":98},{"y":54.8,"s":105,"e":113},{"y":54.8,"s":130,"e":142},
{"y":56,"s":1,"e":11},{"y":56,"s":20,"e":31},{"y":56,"s":70,"e":82},{"y":56,"s":96,"e":108},{"y":56,"s":125,"e":142},
{"y":57.2,"s":1,"e":9},{"y":57.2,"s":14,"e":25},{"y":57.2,"s":36,"e":45},{"y":57.2,"s":70,"e":79},{"y":57.2,"s":81,"e":92},{"y":57.2,"s":131,"e":142},
{"y":58.3,"s":1,"e":15},{"y":58.3,"s":47,"e":55},{"y":58.3,"s":69,"e":79},{"y":58.3,"s":96,"e":109},{"y":58.3,"s":119,"e":125},
{"y":59.3,"s":1,"e":17},{"y":59.3,"s":19,"e":29},{"y":59.3,"s":33,"e":39},{"y":59.3,"s":47,"e":55},{"y":59.3,"s":123,"e":134},
{"y":60.5,"s":1,"e":21},{"y":60.5,"s":25,"e":35},{"y":60.5,"s":90,"e":98},{"y":60.5,"s":107,"e":118},{"y":60.5,"s":122,"e":134},
{"y":61.8,"s":1,"e":11},{"y":61.8,"s":28,"e":39},{"y":61.8,"s":79,"e":85},{"y":61.8,"s":113,"e":123},{"y":61.8,"s":127,"e":136},
{"y":63,"s":1,"e":17},{"y":63,"s":28,"e":38},{"y":63,"s":114,"e":135},
{"y":64.2,"s":1,"e":15},{"y":64.2,"s":29,"e":37},{"y":64.2,"s":109,"e":118},{"y":64.2,"s":121,"e":131},
{"y":65.2,"s":1,"e":13},{"y":65.2,"s":22,"e":33},{"y":65.2,"s":45,"e":53},{"y":65.2,"s":95,"e":103},{"y":65.2,"s":108,"e":117},{"y":65.2,"s":124,"e":137},
{"y":66.5,"s":1,"e":8},{"y":66.5,"s":14,"e":29},{"y":66.5,"s":48,"e":68},{"y":66.5,"s":108,"e":118},{"y":66.5,"s":122,"e":136},
{"y":67.7,"s":1,"e":11},{"y":67.7,"s":20,"e":33},{"y":67.7,"s":49,"e":57},{"y":67.7,"s":78,"e":86},{"y":67.7,"s":97,"e":105},{"y":67.7,"s":106,"e":115},{"y":67.7,"s":125,"e":136},
{"y":68.9,"s":1,"e":6},{"y":68.9,"s":20,"e":27},{"y":68.9,"s":54,"e":65},{"y":68.9,"s":71,"e":80},{"y":68.9,"s":94,"e":102},{"y":68.9,"s":126,"e":136},
{"y":70.1,"s":1,"e":11},{"y":70.1,"s":40,"e":49},{"y":70.1,"s":57,"e":69},{"y":70.1,"s":78,"e":86},{"y":70.1,"s":94,"e":103},{"y":70.1,"s":124,"e":136},
{"y":71.4,"s":1,"e":10},{"y":71.4,"s":21,"e":30},{"y":71.4,"s":47,"e":55},{"y":71.4,"s":75,"e":81},{"y":71.4,"s":104,"e":114},{"y":71.4,"s":123,"e":131},
{"y":72.5,"s":1,"e":11},{"y":72.5,"s":18,"e":30},{"y":72.5,"s":46,"e":57},{"y":72.5,"s":92,"e":100},{"y":72.5,"s":114,"e":122},{"y":72.5,"s":125,"e":135},
{"y":73.6,"s":1,"e":8},{"y":73.6,"s":25,"e":31},{"y":73.6,"s":82,"e":96},{"y":73.6,"s":125,"e":135},
{"y":74.8,"s":1,"e":7},{"y":74.8,"s":28,"e":41},{"y":74.8,"s":83,"e":94},{"y":74.8,"s":115,"e":135},
{"y":76,"s":1,"e":11},{"y":76,"s":26,"e":38},{"y":76,"s":76,"e":86},{"y":76,"s":96,"e":104},{"y":76,"s":116,"e":124},{"y":76,"s":127,"e":135},
{"y":77,"s":1,"e":6},{"y":77,"s":70,"e":76},{"y":77,"s":117,"e":127},
{"y":78.2,"s":19,"e":31},{"y":78.2,"s":37,"e":48},{"y":78.2,"s":64,"e":77},{"y":78.2,"s":90,"e":116},
{"y":79.4,"s":19,"e":32},{"y":79.4,"s":34,"e":44},{"y":79.4,"s":56,"e":70},{"y":79.4,"s":83,"e":96},{"y":79.4,"s":99,"e":116},
{"y":80.6,"s":19,"e":29},{"y":80.6,"s":37,"e":48},{"y":80.6,"s":66,"e":75},{"y":80.6,"s":86,"e":95},{"y":80.6,"s":97,"e":115},
{"y":81.4,"s":19,"e":27},{"y":81.4,"s":48,"e":70},{"y":81.4,"s":98,"e":112},
{"y":82.5,"s":19,"e":29},{"y":82.5,"s":34,"e":44},{"y":82.5,"s":58,"e":73},{"y":82.5,"s":85,"e":96},{"y":82.5,"s":100,"e":108},
{"y":83.6,"s":19,"e":27},{"y":83.6,"s":35,"e":45},{"y":83.6,"s":55,"e":66},{"y":83.6,"s":73,"e":81},{"y":83.6,"s":97,"e":107},
{"y":84.7,"s":20,"e":30},{"y":84.7,"s":33,"e":38},{"y":84.7,"s":62,"e":73},{"y":84.7,"s":89,"e":106},
{"y":86.1,"s":22,"e":31},{"y":86.1,"s":34,"e":44},{"y":86.1,"s":56,"e":70},{"y":86.1,"s":84,"e":101},
{"y":87.2,"s":22,"e":30},{"y":87.2,"s":36,"e":46},{"y":87.2,"s":54,"e":64},{"y":87.2,"s":78,"e":89},{"y":87.2,"s":91,"e":103},
{"y":88.4,"s":23,"e":32},{"y":88.4,"s":46,"e":55},{"y":88.4,"s":62,"e":73},{"y":88.4,"s":75,"e":90},{"y":88.4,"s":94,"e":103},
{"y":89.2,"s":23,"e":31},{"y":89.2,"s":37,"e":45},{"y":89.2,"s":80,"e":92},
{"y":90.2,"s":1,"e":9},{"y":90.2,"s":15,"e":23},{"y":90.2,"s":29,"e":33},{"y":90.2,"s":46,"e":57},{"y":90.2,"s":66,"e":91},
{"y":91.3,"s":1,"e":13},{"y":91.3,"s":16,"e":33},{"y":91.3,"s":46,"e":57},{"y":91.3,"s":73,"e":91},
{"y":92.6,"s":1,"e":7},{"y":92.6,"s":22,"e":32},{"y":92.6,"s":46,"e":56},{"y":92.6,"s":60,"e":85},
{"y":93.6,"s":1,"e":10},{"y":93.6,"s":17,"e":27},{"y":93.6,"s":47,"e":56},{"y":93.6,"s":68,"e":76},{"y":93.6,"s":81,"e":89},
{"y":94.9,"s":1,"e":19},{"y":94.9,"s":23,"e":34},{"y":94.9,"s":48,"e":57},{"y":94.9,"s":66,"e":80},
{"y":96.1,"s":1,"e":12},{"y":96.1,"s":13,"e":33},{"y":96.1,"s":46,"e":56},{"y":96.1,"s":58,"e":80},
{"y":97.3,"s":1,"e":21},{"y":97.3,"s":23,"e":34},{"y":97.3,"s":50,"e":58},{"y":97.3,"s":73,"e":81},
{"y":98.5,"s":1,"e":14},{"y":98.5,"s":16,"e":33},{"y":98.5,"s":67,"e":82},
{"y":99.7,"s":1,"e":9},{"y":99.7,"s":11,"e":25},{"y":99.7,"s":27,"e":35},{"y":99.7,"s":58,"e":65},{"y":99.7,"s":69,"e":80},
{"y":101.3,"s":1,"e":9},{"y":101.3,"s":13,"e":27},{"y":101.3,"s":28,"e":41},{"y":101.3,"s":44,"e":52},{"y":101.3,"s":55,"e":66},{"y":101.3,"s":71,"e":78},
{"y":102.5,"s":1,"e":15},{"y":102.5,"s":17,"e":26},{"y":102.5,"s":46,"e":58},{"y":102.5,"s":62,"e":75},
{"y":103.7,"s":1,"e":11},{"y":103.7,"s":13,"e":23},{"y":103.7,"s":47,"e":57},{"y":103.7,"s":62,"e":74},
{"y":104.9,"s":1,"e":19},{"y":104.9,"s":21,"e":27},{"y":104.9,"s":48,"e":55},{"y":104.9,"s":59,"e":71},
{"y":106,"s":1,"e":13},{"y":106,"s":15,"e":25},{"y":106,"s":30,"e":38},{"y":106,"s":61,"e":71},
{"y":107.1,"s":1,"e":11},{"y":107.1,"s":15,"e":27},{"y":107.1,"s":30,"e":44},{"y":107.1,"s":48,"e":56},
{"y":108.3,"s":1,"e":7},{"y":108.3,"s":16,"e":25},{"y":108.3,"s":27,"e":40},{"y":108.3,"s":47,"e":57},
{"y":109.5,"s":1,"e":13},{"y":109.5,"s":15,"e":27},{"y":109.5,"s":29,"e":37},{"y":109.5,"s":45,"e":61},
{"y":110.3,"s":1,"e":9},{"y":110.3,"s":13,"e":21},{"y":110.3,"s":45,"e":53},
{"y":111.2,"s":1,"e":13},{"y":111.2,"s":15,"e":23},{"y":111.2,"s":24,"e":33},{"y":111.2,"s":40,"e":62},
{"y":112.4,"s":1,"e":11},{"y":112.4,"s":11,"e":26},{"y":112.4,"s":41,"e":61},
{"y":113.6,"s":1,"e":23},{"y":113.6,"s":29,"e":37},{"y":113.6,"s":44,"e":63},
{"y":114.8,"s":1,"e":17},{"y":114.8,"s":39,"e":62},
{"y":115.5,"s":1,"e":9},{"y":115.5,"s":25,"e":31},{"y":115.5,"s":57,"e":63},
{"y":116.5,"s":15,"e":31},{"y":116.5,"s":29,"e":49},
{"y":117.4,"s":14,"e":27},{"y":117.4,"s":30,"e":44},
{"y":118.6,"s":16,"e":34},{"y":118.6,"s":36,"e":46},
{"y":119.4,"s":18,"e":35},{"y":119.4,"s":44,"e":51}
],
"sc":[
{"y":0.6,"s":1,"e":23},{"y":0.6,"s":26,"e":59},{"y":0.6,"s":86,"e":121},{"y":0.6,"s":203,"e":248},
{"y":1.9,"s":1,"e":34},{"y":1.9,"s":46,"e":66},{"y":1.9,"s":112,"e":120},{"y":1.9,"s":151,"e":190},{"y":1.9,"s":205,"e":249},
{"y":3.2,"s":1,"e":36},{"y":3.2,"s":38,"e":78},{"y":3.2,"s":96,"e":120},{"y":3.2,"s":151,"e":216},{"y":3.2,"s":233,"e":249},
{"y":4.5,"s":1,"e":20},{"y":4.5,"s":23,"e":42},{"y":4.5,"s":62,"e":110},{"y":4.5,"s":151,"e":163},{"y":4.5,"s":172,"e":193},{"y":4.5,"s":229,"e":249},
{"y":6.1,"s":1,"e":20},{"y":6.1,"s":41,"e":60},{"y":6.1,"s":102,"e":120},{"y":6.1,"s":151,"e":182},{"y":6.1,"s":194,"e":206},{"y":6.1,"s":229,"e":249},
{"y":7.4,"s":1,"e":30},{"y":7.4,"s":33,"e":63},{"y":7.4,"s":95,"e":110},{"y":7.4,"s":151,"e":175},{"y":7.4,"s":221,"e":249},
{"y":8.6,"s":13,"e":54},{"y":8.6,"s":70,"e":89},{"y":8.6,"s":200,"e":245},
{"y":9.9,"s":1,"e":36},{"y":9.9,"s":33,"e":58},{"y":9.9,"s":93,"e":120},{"y":9.9,"s":155,"e":184},{"y":9.9,"s":185,"e":218},{"y":9.9,"s":217,"e":233},
{"y":11.1,"s":1,"e":36},{"y":11.1,"s":47,"e":76},{"y":11.1,"s":75,"e":93},{"y":11.1,"s":101,"e":120},{"y":11.1,"s":129,"e":148},{"y":11.1,"s":155,"e":202},{"y":11.1,"s":198,"e":233},
{"y":12.8,"s":1,"e":36},{"y":12.8,"s":75,"e":92},{"y":12.8,"s":93,"e":116},{"y":12.8,"s":129,"e":148},{"y":12.8,"s":192,"e":243},
{"y":14.1,"s":1,"e":18},{"y":14.1,"s":38,"e":49},{"y":14.1,"s":93,"e":120},{"y":14.1,"s":131,"e":150},{"y":14.1,"s":192,"e":239},
{"y":15.7,"s":18,"e":38},{"y":15.7,"s":54,"e":92},{"y":15.7,"s":93,"e":120},{"y":15.7,"s":126,"e":160},{"y":15.7,"s":217,"e":243},
{"y":16.8,"s":49,"e":66},{"y":16.8,"s":126,"e":173},{"y":16.8,"s":220,"e":242},
{"y":18.2,"s":1,"e":16},{"y":18.2,"s":20,"e":55},{"y":18.2,"s":66,"e":132},{"y":18.2,"s":161,"e":182},
{"y":19.5,"s":1,"e":22},{"y":19.5,"s":24,"e":70},{"y":19.5,"s":93,"e":111},{"y":19.5,"s":112,"e":143},{"y":19.5,"s":149,"e":162},{"y":19.5,"s":167,"e":193},
{"y":20.8,"s":14,"e":47},{"y":20.8,"s":70,"e":92},{"y":20.8,"s":93,"e":144},{"y":20.8,"s":170,"e":196},
{"y":22,"s":1,"e":24},{"y":22,"s":38,"e":70},{"y":22,"s":70,"e":111},{"y":22,"s":116,"e":131},{"y":22,"s":170,"e":196},
{"y":23.3,"s":38,"e":58},{"y":23.3,"s":70,"e":111},{"y":23.3,"s":124,"e":145},{"y":23.3,"s":174,"e":196},
{"y":24.6,"s":1,"e":30},{"y":24.6,"s":70,"e":100},{"y":24.6,"s":160,"e":182},
{"y":26.2,"s":1,"e":30},{"y":26.2,"s":50,"e":71},{"y":26.2,"s":80,"e":110},{"y":26.2,"s":137,"e":180},
{"y":27.6,"s":1,"e":49},{"y":27.6,"s":50,"e":74},{"y":27.6,"s":129,"e":158},{"y":27.6,"s":166,"e":190},
{"y":29,"s":1,"e":49},{"y":29,"s":76,"e":111},{"y":29,"s":129,"e":155},{"y":29,"s":166,"e":192},
{"y":30.5,"s":1,"e":18},{"y":30.5,"s":22,"e":50},{"y":30.5,"s":72,"e":94},{"y":30.5,"s":168,"e":190},
{"y":31.8,"s":30,"e":70},{"y":31.8,"s":73,"e":96},{"y":31.8,"s":168,"e":192},
{"y":33,"s":28,"e":69},{"y":33,"s":76,"e":126},{"y":33,"s":174,"e":181},
{"y":34.2,"s":30,"e":69},{"y":34.2,"s":94,"e":108},{"y":34.2,"s":147,"e":181},
{"y":35.4,"s":1,"e":23},{"y":35.4,"s":48,"e":70},{"y":35.4,"s":119,"e":143},{"y":35.4,"s":145,"e":169},
{"y":36.7,"s":1,"e":33},{"y":36.7,"s":48,"e":72},{"y":36.7,"s":76,"e":97},{"y":36.7,"s":139,"e":171},
{"y":37.9,"s":1,"e":29},{"y":37.9,"s":48,"e":97},{"y":37.9,"s":111,"e":143},{"y":37.9,"s":165,"e":182},
{"y":39.2,"s":1,"e":30},{"y":39.2,"s":40,"e":70},{"y":39.2,"s":72,"e":128},{"y":39.2,"s":134,"e":161},
{"y":40.4,"s":1,"e":30},{"y":40.4,"s":60,"e":110},{"y":40.4,"s":122,"e":170},
{"y":41.7,"s":1,"e":30},{"y":41.7,"s":60,"e":72},{"y":41.7,"s":78,"e":101},{"y":41.7,"s":146,"e":170},
{"y":42.9,"s":1,"e":40},{"y":42.9,"s":60,"e":150},{"y":42.9,"s":152,"e":170},
{"y":44.2,"s":1,"e":30},{"y":44.2,"s":40,"e":58},{"y":44.2,"s":83,"e":126},{"y":44.2,"s":134,"e":162},
{"y":45.4,"s":1,"e":24},{"y":45.4,"s":38,"e":76},{"y":45.4,"s":101,"e":123},
{"y":46.9,"s":1,"e":22},{"y":46.9,"s":38,"e":58},{"y":46.9,"s":60,"e":82},{"y":46.9,"s":88,"e":126},{"y":46.9,"s":133,"e":158},
{"y":48.4,"s":1,"e":54},{"y":48.4,"s":60,"e":89},{"y":48.4,"s":101,"e":128},{"y":48.4,"s":135,"e":158},
{"y":49.6,"s":1,"e":26},{"y":49.6,"s":38,"e":80},{"y":49.6,"s":90,"e":108},{"y":49.6,"s":131,"e":153},
{"y":50.9,"s":1,"e":36},{"y":50.9,"s":40,"e":78},{"y":50.9,"s":104,"e":157},
{"y":52.1,"s":1,"e":28},{"y":52.1,"s":48,"e":76},{"y":52.1,"s":78,"e":157},
{"y":53.1,"s":1,"e":14},{"y":53.1,"s":28,"e":80},
{"y":54.2,"s":8,"e":43},{"y":54.2,"s":46,"e":80},{"y":54.2,"s":102,"e":146},
{"y":55.5,"s":8,"e":41},{"y":55.5,"s":48,"e":62},{"y":55.5,"s":72,"e":146},
{"y":56.7,"s":8,"e":45},{"y":56.7,"s":56,"e":80},{"y":56.7,"s":102,"e":146},
{"y":58,"s":8,"e":41},{"y":58,"s":46,"e":146},
{"y":59.2,"s":8,"e":44},{"y":59.2,"s":50,"e":78},{"y":59.2,"s":117,"e":146},
{"y":60.5,"s":1,"e":41},{"y":60.5,"s":72,"e":140},
{"y":61.8,"s":1,"e":35},{"y":61.8,"s":72,"e":140},
{"y":63,"s":1,"e":42},{"y":63,"s":72,"e":140},
{"y":64.3,"s":1,"e":35},{"y":64.3,"s":72,"e":142},
{"y":65.6,"s":1,"e":42},{"y":65.6,"s":72,"e":143},
{"y":67.3,"s":1,"e":40},{"y":67.3,"s":46,"e":137},
{"y":68.5,"s":1,"e":40},{"y":68.5,"s":46,"e":85},{"y":68.5,"s":90,"e":135},
{"y":69.8,"s":1,"e":36},{"y":69.8,"s":48,"e":105},{"y":69.8,"s":110,"e":125},
{"y":71.2,"s":1,"e":30},{"y":71.2,"s":70,"e":136},
{"y":72.9,"s":1,"e":40},{"y":72.9,"s":45,"e":82},{"y":72.9,"s":85,"e":110},{"y":72.9,"s":112,"e":130},
{"y":74.1,"s":1,"e":55},{"y":74.1,"s":60,"e":78},{"y":74.1,"s":92,"e":135},
{"y":75.3,"s":1,"e":30},{"y":75.3,"s":35,"e":75},{"y":75.3,"s":93,"e":110},{"y":75.3,"s":114,"e":135},
{"y":76.6,"s":1,"e":40},{"y":76.6,"s":42,"e":80},{"y":76.6,"s":98,"e":133},
{"y":77.4,"s":4,"e":20},{"y":77.4,"s":22,"e":60},
{"y":78.5,"s":1,"e":30},{"y":78.5,"s":33,"e":60},{"y":78.5,"s":62,"e":77},{"y":78.5,"s":90,"e":130},
{"y":79.7,"s":1,"e":28},{"y":79.7,"s":32,"e":58},{"y":79.7,"s":64,"e":92},{"y":79.7,"s":98,"e":132},
{"y":80.9,"s":1,"e":36},{"y":80.9,"s":40,"e":70},{"y":80.9,"s":78,"e":96},{"y":80.9,"s":111,"e":128},
{"y":82.2,"s":2,"e":56},{"y":82.2,"s":80,"e":129},
{"y":83.4,"s":15,"e":60},{"y":83.4,"s":62,"e":122},
{"y":84.8,"s":18,"e":60},{"y":84.8,"s":58,"e":117},
{"y":86.2,"s":18,"e":56},{"y":86.2,"s":72,"e":115},
{"y":88,"s":19,"e":108},
{"y":89.2,"s":19,"e":46},{"y":89.2,"s":58,"e":108},
{"y":90.3,"s":22,"e":58},{"y":90.3,"s":60,"e":104},
{"y":91.6,"s":22,"e":64},{"y":91.6,"s":62,"e":104},
{"y":92.8,"s":24,"e":48},{"y":92.8,"s":50,"e":102},
{"y":93.9,"s":22,"e":68},{"y":93.9,"s":70,"e":90},
{"y":95.1,"s":1,"e":32},{"y":95.1,"s":34,"e":75},{"y":95.1,"s":76,"e":92},
{"y":96.3,"s":1,"e":31},{"y":96.3,"s":46,"e":90},
{"y":97.5,"s":1,"e":32},{"y":97.5,"s":46,"e":72},{"y":97.5,"s":74,"e":92},
{"y":98.4,"s":1,"e":26},{"y":98.4,"s":48,"e":70},
{"y":99.4,"s":1,"e":30},{"y":99.4,"s":25,"e":80},
{"y":100.6,"s":1,"e":24},{"y":100.6,"s":27,"e":82},
{"y":101.8,"s":1,"e":34},{"y":101.8,"s":35,"e":82},
{"y":102.7,"s":1,"e":25},{"y":102.7,"s":40,"e":76},
{"y":103.8,"s":1,"e":18},{"y":103.8,"s":18,"e":78},
{"y":105,"s":1,"e":26},{"y":105,"s":28,"e":80},
{"y":106.3,"s":1,"e":30},{"y":106.3,"s":30,"e":76},
{"y":107.5,"s":1,"e":20},{"y":107.5,"s":16,"e":58},
{"y":108.7,"s":1,"e":25},{"y":108.7,"s":28,"e":60},
{"y":109.6,"s":1,"e":28},{"y":109.6,"s":32,"e":56},
{"y":110.6,"s":1,"e":30},{"y":110.6,"s":30,"e":54},
{"y":111.8,"s":1,"e":28},{"y":111.8,"s":34,"e":62},
{"y":112.8,"s":1,"e":25},{"y":112.8,"s":46,"e":64},
{"y":113.9,"s":16,"e":40},{"y":113.9,"s":44,"e":52},
{"y":115,"s":14,"e":52},
{"y":116.5,"s":16,"e":52},
{"y":117.7,"s":16,"e":48},
{"y":119,"s":17,"e":53}
],
"sd":[
{"y":0.5,"s":5,"e":38},{"y":0.5,"s":84,"e":122},{"y":0.5,"s":150,"e":249},
{"y":1.8,"s":7,"e":80},{"y":1.8,"s":80,"e":122},{"y":1.8,"s":150,"e":210},{"y":1.8,"s":208,"e":249},
{"y":3.2,"s":3,"e":80},{"y":3.2,"s":63,"e":122},{"y":3.2,"s":150,"e":249},
{"y":4.6,"s":3,"e":52},{"y":4.6,"s":66,"e":112},{"y":4.6,"s":151,"e":203},{"y":4.6,"s":195,"e":248},
{"y":6,"s":4,"e":60},{"y":6,"s":65,"e":122},{"y":6,"s":160,"e":249},
{"y":7.3,"s":15,"e":80},{"y":7.3,"s":65,"e":122},{"y":7.3,"s":162,"e":240},
{"y":9.2,"s":7,"e":90},{"y":9.2,"s":98,"e":153},{"y":9.2,"s":163,"e":244},
{"y":10.4,"s":1,"e":35},{"y":10.4,"s":45,"e":90},{"y":10.4,"s":94,"e":152},{"y":10.4,"s":150,"e":230},
{"y":11.6,"s":45,"e":80},{"y":11.6,"s":94,"e":219},
{"y":12.9,"s":14,"e":45},{"y":12.9,"s":45,"e":90},{"y":12.9,"s":94,"e":213},
{"y":14.1,"s":14,"e":90},{"y":14.1,"s":94,"e":200},{"y":14.1,"s":166,"e":244},
{"y":15.4,"s":10,"e":52},{"y":15.4,"s":45,"e":90},{"y":15.4,"s":94,"e":235},
{"y":16.6,"s":10,"e":50},{"y":16.6,"s":50,"e":90},{"y":16.6,"s":94,"e":230},{"y":16.6,"s":200,"e":244},
{"y":17.7,"s":1,"e":45},{"y":17.7,"s":46,"e":90},{"y":17.7,"s":126,"e":225},
{"y":18.8,"s":1,"e":29},{"y":18.8,"s":29,"e":86},{"y":18.8,"s":86,"e":140},{"y":18.8,"s":118,"e":199},
{"y":20.4,"s":1,"e":56},{"y":20.4,"s":56,"e":114},{"y":20.4,"s":114,"e":175},{"y":20.4,"s":177,"e":199},
{"y":22,"s":9,"e":80},{"y":22,"s":80,"e":147},{"y":22,"s":147,"e":199},
{"y":23.6,"s":1,"e":37},{"y":23.6,"s":37,"e":80},{"y":23.6,"s":86,"e":145},{"y":23.6,"s":147,"e":199},
{"y":25.1,"s":1,"e":56},{"y":25.1,"s":56,"e":106},{"y":25.1,"s":106,"e":199},
{"y":26.4,"s":1,"e":92},{"y":26.4,"s":92,"e":199},
{"y":27.6,"s":1,"e":60},{"y":27.6,"s":60,"e":110},{"y":27.6,"s":110,"e":183},
{"y":28.9,"s":1,"e":52},{"y":28.9,"s":52,"e":98},{"y":28.9,"s":98,"e":160},{"y":28.9,"s":160,"e":185},
{"y":30.2,"s":1,"e":52},{"y":30.2,"s":52,"e":120},{"y":30.2,"s":120,"e":188},
{"y":31.5,"s":1,"e":50},{"y":31.5,"s":50,"e":140},{"y":31.5,"s":140,"e":190},
{"y":32.8,"s":1,"e":52},{"y":32.8,"s":52,"e":110},{"y":32.8,"s":110,"e":192},
{"y":34.1,"s":1,"e":50},{"y":34.1,"s":50,"e":130},{"y":34.1,"s":130,"e":192},
{"y":35.2,"s":1,"e":40},{"y":35.2,"s":40,"e":100},{"y":35.2,"s":100,"e":170},
{"y":36.2,"s":1,"e":48},{"y":36.2,"s":48,"e":120},{"y":36.2,"s":120,"e":176},
{"y":37.4,"s":2,"e":48},{"y":37.4,"s":70,"e":150},{"y":37.4,"s":150,"e":176},
{"y":38.6,"s":1,"e":48},{"y":38.6,"s":70,"e":130},{"y":38.6,"s":130,"e":165},
{"y":39.8,"s":2,"e":48},{"y":39.8,"s":70,"e":125},{"y":39.8,"s":125,"e":160},
{"y":41,"s":1,"e":48},{"y":41,"s":70,"e":140},{"y":41,"s":140,"e":176},
{"y":42.3,"s":1,"e":48},{"y":42.3,"s":72,"e":130},{"y":42.3,"s":130,"e":178},
{"y":43.7,"s":1,"e":50},{"y":43.7,"s":50,"e":110},{"y":43.7,"s":110,"e":173},
{"y":44.9,"s":1,"e":42},{"y":44.9,"s":60,"e":130},{"y":44.9,"s":125,"e":173},
{"y":46.1,"s":1,"e":42},{"y":46.1,"s":60,"e":110},{"y":46.1,"s":110,"e":173},
{"y":47.3,"s":1,"e":50},{"y":47.3,"s":60,"e":130},{"y":47.3,"s":140,"e":173},
{"y":48.6,"s":1,"e":50},{"y":48.6,"s":60,"e":115},{"y":48.6,"s":130,"e":173},
{"y":49.9,"s":1,"e":60},{"y":49.9,"s":60,"e":140},{"y":49.9,"s":130,"e":173},
{"y":51.2,"s":1,"e":58},{"y":51.2,"s":60,"e":150},{"y":51.2,"s":150,"e":172},
{"y":52.6,"s":1,"e":44},{"y":52.6,"s":44,"e":100},{"y":52.6,"s":100,"e":157},
{"y":53.8,"s":1,"e":42},{"y":53.8,"s":60,"e":110},{"y":53.8,"s":110,"e":159},
{"y":55,"s":1,"e":46},{"y":55,"s":60,"e":120},{"y":55,"s":120,"e":158},
{"y":56.1,"s":1,"e":45},{"y":56.1,"s":62,"e":160},
{"y":57.4,"s":7,"e":44},{"y":57.4,"s":44,"e":100},{"y":57.4,"s":100,"e":146},
{"y":58.6,"s":6,"e":46},{"y":58.6,"s":46,"e":90},{"y":58.6,"s":90,"e":145},
{"y":59.9,"s":7,"e":56},{"y":59.9,"s":56,"e":120},{"y":59.9,"s":110,"e":146},
{"y":61.2,"s":10,"e":46},{"y":61.2,"s":46,"e":110},{"y":61.2,"s":110,"e":146},
{"y":62.5,"s":3,"e":50},{"y":62.5,"s":52,"e":110},{"y":62.5,"s":110,"e":142},
{"y":64,"s":1,"e":42},{"y":64,"s":70,"e":100},{"y":64,"s":100,"e":142},
{"y":65.3,"s":1,"e":42},{"y":65.3,"s":70,"e":110},{"y":65.3,"s":110,"e":138},
{"y":66.5,"s":1,"e":42},{"y":66.5,"s":70,"e":130},{"y":66.5,"s":110,"e":140},
{"y":67.8,"s":1,"e":42},{"y":67.8,"s":80,"e":140},
{"y":69.1,"s":1,"e":40},{"y":69.1,"s":46,"e":100},{"y":69.1,"s":100,"e":136},
{"y":70.3,"s":1,"e":40},{"y":70.3,"s":46,"e":90},{"y":70.3,"s":90,"e":134},
{"y":71.5,"s":1,"e":40},{"y":71.5,"s":46,"e":110},{"y":71.5,"s":110,"e":136},
{"y":72.7,"s":2,"e":38},{"y":72.7,"s":46,"e":100},{"y":72.7,"s":100,"e":130},
{"y":73.9,"s":1,"e":40},{"y":73.9,"s":46,"e":118},{"y":73.9,"s":110,"e":136},
{"y":75.1,"s":4,"e":40},{"y":75.1,"s":40,"e":120},
{"y":76.4,"s":1,"e":50},{"y":76.4,"s":50,"e":110},{"y":76.4,"s":110,"e":128},
{"y":77.6,"s":1,"e":40},{"y":77.6,"s":40,"e":100},{"y":77.6,"s":100,"e":134},
{"y":78.8,"s":1,"e":56},{"y":78.8,"s":56,"e":120},{"y":78.8,"s":110,"e":135},
{"y":80,"s":1,"e":50},{"y":80,"s":52,"e":110},{"y":80,"s":110,"e":125},
{"y":81,"s":1,"e":60},{"y":81,"s":60,"e":120},
{"y":82.1,"s":1,"e":42},{"y":82.1,"s":42,"e":100},{"y":82.1,"s":100,"e":133},
{"y":83.4,"s":1,"e":56},{"y":83.4,"s":56,"e":120},{"y":83.4,"s":110,"e":130},
{"y":84.7,"s":1,"e":50},{"y":84.7,"s":50,"e":100},{"y":84.7,"s":100,"e":120},
{"y":86,"s":1,"e":36},{"y":86,"s":40,"e":110},{"y":86,"s":110,"e":122},
{"y":87.3,"s":1,"e":36},{"y":87.3,"s":38,"e":100},{"y":87.3,"s":90,"e":120},
{"y":88.7,"s":18,"e":60},{"y":88.7,"s":60,"e":117},
{"y":90,"s":22,"e":70},{"y":90,"s":70,"e":117},
{"y":91.3,"s":18,"e":56},{"y":91.3,"s":56,"e":116},
{"y":92.3,"s":20,"e":60},{"y":92.3,"s":60,"e":110},
{"y":93.5,"s":19,"e":60},{"y":93.5,"s":60,"e":108},
{"y":94.8,"s":19,"e":58},{"y":94.8,"s":58,"e":109},
{"y":96.1,"s":20,"e":70},{"y":96.1,"s":70,"e":106},
{"y":97.7,"s":22,"e":64},{"y":97.7,"s":64,"e":104},
{"y":99,"s":21,"e":60},{"y":99,"s":60,"e":102},
{"y":100.1,"s":20,"e":70},{"y":100.1,"s":70,"e":100},
{"y":101.5,"s":1,"e":33},{"y":101.5,"s":44,"e":90},
{"y":102.7,"s":1,"e":33},{"y":102.7,"s":44,"e":90},
{"y":104,"s":4,"e":40},{"y":104,"s":40,"e":84},
{"y":105.5,"s":1,"e":48},{"y":105.5,"s":48,"e":80},
{"y":106.7,"s":1,"e":38},{"y":106.7,"s":38,"e":82},
{"y":107.8,"s":1,"e":45},{"y":107.8,"s":45,"e":75},
{"y":109.2,"s":17,"e":50},{"y":109.2,"s":50,"e":78},
{"y":110.4,"s":17,"e":46},{"y":110.4,"s":46,"e":78},
{"y":111.6,"s":17,"e":44},{"y":111.6,"s":44,"e":76},
{"y":113.1,"s":1,"e":30},{"y":113.1,"s":30,"e":58},
{"y":114.3,"s":1,"e":40},{"y":114.3,"s":40,"e":56},
{"y":115.7,"s":2,"e":40},{"y":115.7,"s":40,"e":62},
{"y":116.7,"s":4,"e":30},{"y":116.7,"s":30,"e":63},
{"y":117.9,"s":13,"e":40},{"y":117.9,"s":40,"e":50},
{"y":118.6,"s":14,"e":48},
{"y":119.5,"s":16,"e":52}
],
"se":[
{"y":0.4,"s":149,"e":203},{"y":1.6,"s":15,"e":123},{"y":2.8,"s":3,"e":64},{"y":2.8,"s":148,"e":210},{"y":4,"s":61,"e":122},{"y":5,"s":196,"e":249},{"y":6.1,"s":20,"e":111},{"y":6.1,"s":150,"e":204},{"y":7.4,"s":12,"e":80},{"y":7.4,"s":65,"e":122},{"y":8.3,"s":182,"e":249},{"y":9.2,"s":171,"e":226},{"y":9.9,"s":31,"e":85},{"y":10.7,"s":153,"e":224},{"y":12.1,"s":43,"e":111},{"y":13.2,"s":22,"e":122},{"y":13.2,"s":149,"e":202},{"y":14.4,"s":167,"e":236},
{"y":16.2,"s":1,"e":90},{"y":16.2,"s":139,"e":236},{"y":17,"s":26,"e":78},{"y":17,"s":150,"e":222},{"y":18.2,"s":127,"e":229},{"y":19.9,"s":15,"e":67},{"y":19.9,"s":162,"e":223},{"y":21.2,"s":1,"e":90},{"y":21.2,"s":167,"e":217},{"y":22.8,"s":135,"e":243},{"y":24.1,"s":17,"e":90},{"y":24.1,"s":108,"e":243},{"y":25.4,"s":159,"e":223},{"y":27,"s":107,"e":169},{"y":28.3,"s":19,"e":78},{"y":29.5,"s":114,"e":200},{"y":30.4,"s":21,"e":90},{"y":31.6,"s":2,"e":90},{"y":31.6,"s":155,"e":243},
{"y":33.3,"s":2,"e":90},{"y":34.5,"s":21,"e":90},{"y":34.5,"s":94,"e":192},{"y":35.8,"s":2,"e":90},{"y":35.8,"s":94,"e":163},{"y":37.1,"s":0,"e":90},{"y":37.9,"s":94,"e":155},{"y":39.2,"s":24,"e":90},{"y":40.4,"s":33,"e":90},{"y":40.4,"s":94,"e":159},{"y":41.7,"s":94,"e":170},{"y":43,"s":94,"e":177},
{"y":44.2,"s":74,"e":177},{"y":45.4,"s":53,"e":174},{"y":46.7,"s":53,"e":176},{"y":48,"s":53,"e":180},{"y":49.6,"s":84,"e":182},{"y":50.9,"s":95,"e":183},
{"y":52.6,"s":70,"e":166},{"y":53.8,"s":98,"e":174},{"y":55.1,"s":72,"e":172},{"y":56.4,"s":72,"e":169},{"y":57.6,"s":70,"e":171},
{"y":58.8,"s":91,"e":171},{"y":60.1,"s":67,"e":167},{"y":61.3,"s":91,"e":160},{"y":62.6,"s":0,"e":60},{"y":62.6,"s":108,"e":160},{"y":63.8,"s":0,"e":60},{"y":63.8,"s":108,"e":171},
{"y":65.5,"s":61,"e":154},{"y":66.8,"s":80,"e":151},{"y":68,"s":2,"e":59},{"y":68,"s":96,"e":159},{"y":69.7,"s":61,"e":148},
{"y":71.4,"s":70,"e":140},{"y":72.6,"s":46,"e":101},{"y":73.9,"s":46,"e":103},{"y":75.1,"s":54,"e":144},{"y":76.4,"s":46,"e":117},{"y":77.4,"s":60,"e":136},
{"y":78.3,"s":54,"e":137},
{"y":79.3,"s":55,"e":136},{"y":80.5,"s":47,"e":116},{"y":81.8,"s":47,"e":117},{"y":83.1,"s":47,"e":115},
{"y":84.5,"s":54,"e":130},{"y":86,"s":54,"e":135},{"y":87.5,"s":70,"e":133},
{"y":89.4,"s":62,"e":129},{"y":91,"s":38,"e":109},{"y":92.3,"s":38,"e":106},{"y":93.6,"s":49,"e":129},{"y":94.5,"s":38,"e":116},
{"y":95.6,"s":21,"e":104},{"y":96.8,"s":21,"e":95},{"y":98.1,"s":27,"e":110},{"y":99.4,"s":20,"e":106},{"y":100.7,"s":20,"e":113},{"y":101.9,"s":26,"e":116},{"y":102.8,"s":20,"e":116},
{"y":104,"s":19,"e":103},{"y":105.3,"s":29,"e":108},{"y":106.5,"s":31,"e":101},
{"y":108.2,"s":32,"e":91},{"y":109.4,"s":38,"e":101},{"y":110.5,"s":38,"e":103},{"y":111.7,"s":32,"e":103},{"y":112.8,"s":34,"e":93},
{"y":114.6,"s":24,"e":82},{"y":115.4,"s":26,"e":80},
{"y":116.9,"s":18,"e":81},{"y":118.2,"s":18,"e":75},{"y":119.4,"s":18,"e":78}
],
"sf":[
{"y":5.25,"s":61,"e":170,"m":115.5,"t":"= 0.14"},
{"y":4.25,"s":75,"e":189,"m":132,"t":"= 0.20"},
{"y":3.25,"s":54,"e":158,"m":106,"t":"= 0.25"},
{"y":2.25,"s":92.5,"e":197.5,"m":145,"t":"= 0.24"},
{"y":1.25,"s":94,"e":235.5,"m":164.75,"t":"= 0.28"},
{"y":0.25,"s":0,"e":114.5,"m":57.25,"t":"= 0.13"}
],
"la":[{"v":0},{"v":9.2},{"v":17.8},{"v":24.3},{"v":29},{"v":35.9},{"v":42.3},{"v":47.9},{"v":54.5},{"v":58.7},{"v":66.2},{"v":73.5},{"v":78.8},{"v":82.3},{"v":86.6},{"v":90.7},{"v":95.8},{"v":100.7},{"v":105.2},{"v":109.3},{"v":113.6},{"v":116.2},{"v":120}],
"lb":[{"v":0},{"v":6.9},{"v":14.1},{"v":20.9},{"v":27.9},{"v":35},{"v":40.2},{"v":46.7},{"v":53},{"v":58.8},{"v":64.6},{"v":71.9},{"v":77.4},{"v":81.8},{"v":85.5},{"v":89.5},{"v":94.2},{"v":100.7},{"v":106.5},{"v":110.5},{"v":115.9},{"v":118.1},{"v":120}],
"lc":[{"v":0},{"v":9.3},{"v":17.5},{"v":25.6},{"v":31.2},{"v":38.5},{"v":46.3},{"v":53.6},{"v":59.8},{"v":66.6},{"v":72.2},{"v":77.7},{"v":84},{"v":87.2},{"v":90.9},{"v":94.4},{"v":98.7},{"v":103.1},{"v":106.9},{"v":109.9},{"v":113.1},{"v":115.7},{"v":120}],
"ld":[{"v":0},{"v":8.3},{"v":18.2},{"v":27},{"v":35.6},{"v":43.1},{"v":51.9},{"v":56.7},{"v":63.3},{"v":68.4},{"v":75.7},{"v":81.4},{"v":88},{"v":92.7},{"v":96.9},{"v":100.7},{"v":104.8},{"v":108.4},{"v":112.4},{"v":115.1},{"v":117.2},{"v":119},{"v":120}],
"le":[{"v":0},{"v":15.5},{"v":32.6},{"v":43.5},{"v":52},{"v":58.2},{"v":64.5},{"v":70.6},{"v":77.9},{"v":78.6},{"v":83.8},{"v":88.5},{"v":94.8},{"v":103.3},{"v":107.3},{"v":113.5},{"v":115.9},{"v":119.8}],
"lf":[{"v":0},{"v":1},{"v":2},{"v":3},{"v":5}],
"ca":[{"c":"1","m":4.4},{"c":"2","m":13.6},{"c":"3","m":21},{"c":"4","m":26.4},{"c":"5","m":32.1},{"c":"6","m":38.5},{"c":"7","m":44.6},{"c":"8","m":50.8},{"c":"9","m":56.4},{"c":"10","m":62.2},{"c":"11","m":69.4},{"c":"12","m":75.9},{"c":"13","m":80.2},{"c":"14","m":84.4},{"c":"15","m":88.3},{"c":"16","m":92.9},{"c":"17","m":97.7},{"c":"18","m":102.3},{"c":"19","m":107.1},{"c":"20","m":111},{"c":"21","m":114.5},{"c":"22","m":117.8}],
"cb":[{"c":"1","m":2.8},{"c":"2","m":9.9},{"c":"3","m":17},{"c":"4","m":23.7},{"c":"5","m":30.7},{"c":"6","m":36.9},{"c":"7","m":42.9},{"c":"8","m":49.3},{"c":"9","m":55.3},{"c":"10","m":61.2},{"c":"11","m":67.6},{"c":"12","m":73.9},{"c":"13","m":78.7},{"c":"14","m":83.1},{"c":"15","m":87.1},{"c":"16","m":91.5},{"c":"17","m":96.5},{"c":"18","m":102.9},{"c":"19","m":108.1},{"c":"20","m":112.6},{"c":"21","m":116},{"c":"22","m":119.4}],
"cc":[{"c":"1","m":4.6},{"c":"2","m":13.4},{"c":"3","m":21.4},{"c":"4","m":28.1},{"c":"5","m":34.7},{"c":"6","m":41.9},{"c":"7","m":49.5},{"c":"8","m":56.5},{"c":"9","m":63.2},{"c":"10","m":68.9},{"c":"11","m":74.5},{"c":"12","m":80.2},{"c":"13","m":85},{"c":"14","m":89},{"c":"15","m":92.6},{"c":"16","m":96.6},{"c":"17","m":100.7},{"c":"18","m":104.4},{"c":"19","m":107.9},{"c":"20","m":111},{"c":"21","m":114.4},{"c":"22","m":117.6}],
"cd":[{"c":"1","m":3.6},{"c":"2","m":13.1},{"c":"3","m":22.6},{"c":"4","m":31.2},{"c":"5","m":39.5},{"c":"6","m":47.3},{"c":"7","m":54.1},{"c":"8","m":59.9},{"c":"9","m":65.6},{"c":"10","m":71.9},{"c":"11","m":77.8},{"c":"12","m":84.5},{"c":"13","m":90},{"c":"14","m":94.5},{"c":"15","m":98.6},{"c":"16","m":102.7},{"c":"17","m":106.4},{"c":"18","m":110.1},{"c":"19","m":113.4},{"c":"20","m":115.8},{"c":"21","m":118.3},{"c":"22","m":120.6}],
"ce":[{"c":"1","m":7.4},{"c":"2","m":23.4},{"c":"3","m":37.9},{"c":"4","m":47.8},{"c":"5","m":54.6},{"c":"6","m":61.3},{"c":"7","m":67.2},{"c":"8","m":73.9},{"c":"9","m":77.9},{"c":"10","m":81.3},{"c":"11","m":86.2},{"c":"12","m":91},{"c":"13","m":98.5},{"c":"14","m":104.9},{"c":"15","m":110.1},{"c":"17","m":114.5},{"c":"18","m":117.8}],
"cf":[{"c":"1","m":0.5},{"c":"2","m":1.5},{"c":"3","m":2.5},{"c":"4","m":4},{"c":"6","m":5.45}]
},
"concat":[
{"width":412.5,"height":478,
"resolve":{"scale":{"y":"independent"}},
"layer":[
{"data":{"name":"sa"},"mark":{"type":"rule","color":"#1E90FF","strokeWidth":7,"strokeCap":"round"},
"encoding":{"x":{"field":"s","type":"quantitative","scale":{"domain":[0,250],"nice":false,"zero":false},"axis":{"values":[0,50,100,150,200,250],"labelExpr":"datum.value == 250 ? '' : datum.label","title":"Genomic position (Mb)"}},"x2":{"field":"e"},
"y":{"field":"y","type":"quantitative","scale":{"domain":[0,120],"nice":false,"zero":false},"axis":{"orient":"left","title":"Individuals (N = 125)","titleX":-39,"titleY":259}}}},
{"data":{"name":"la"},"mark":{"type":"rule","color":"#999999","strokeWidth":1.5},
"encoding":{"x":{"datum":0,"scale":{"domain":[0,250],"nice":false,"zero":false}},"x2":{"datum":250},
"y":{"field":"v","type":"quantitative","scale":{"domain":[0,120],"nice":false,"zero":false},"axis":{"orient":"right","title":"a","titleX":-454.5,"titleY":-59.3,"titleAngle":0,"titleFontSize":40,"titleFontWeight":"bold","titleAlign":"center","titleBaseline":"alphabetic"}}}},
{"data":{"name":"ca"},"mark":{"type":"text","align":"left","baseline":"middle","dx":5,"fontSize":12,"color":"#808080"},
"encoding":{"x":{"datum":250,"scale":{"domain":[0,250],"nice":false,"zero":false}},"y":{"field":"m","type":"quantitative","scale":{"domain":[0,120],"nice":false,"zero":false},"axis":null},"text":{"field":"c"}}},
{"data":{"values":[{"t":"Chromosomes"}]},"mark":{"type":"text","angle":90,"align":"center","baseline":"middle","dx":259,"dy":-43,"fontSize":29,"color":"#808080"},
"encoding":{"x":{"datum":250,"scale":{"domain":[0,250],"nice":false,"zero":false}},"y":{"datum":120,"scale":{"domain":[0,120],"nice":false,"zero":false},"axis":null},"text":{"field":"t"}}},
{"data":{"values":[{"t":"ROH < 5 Mb"}]},"mark":{"type":"text","align":"center","baseline":"alphabetic","dy":-55,"fontSize":29,"color":"#000000"},
"encoding":{"x":{"datum":125,"scale":{"domain":[0,250],"nice":false,"zero":false}},"y":{"datum":120,"scale":{"domain":[0,120],"nice":false,"zero":false},"axis":null},"text":{"field":"t"}}},
{"data":{"values":[{"t":"1258 segments (32.6%)"}]},"mark":{"type":"text","align":"center","baseline":"alphabetic","dy":-20,"fontSize":29,"color":"#000000"},
"encoding":{"x":{"datum":125,"scale":{"domain":[0,250],"nice":false,"zero":false}},"y":{"datum":120,"scale":{"domain":[0,120],"nice":false,"zero":false},"axis":null},"text":{"field":"t"}}}
]},
{"hconcat":[
{"width":412.5,"height":478,
"resolve":{"scale":{"y":"independent"}},
"layer":[
{"data":{"name":"sb"},"mark":{"type":"rule","color":"#FF7256","strokeWidth":7,"strokeCap":"round"},
"encoding":{"x":{"field":"s","type":"quantitative","scale":{"domain":[0,250],"nice":false,"zero":false},"axis":{"values":[0,50,100,150,200,250],"labelExpr":"datum.value == 250 ? '' : datum.label","title":"Genomic position (Mb)"}},"x2":{"field":"e"},
"y":{"field":"y","type":"quantitative","scale":{"domain":[0,120],"nice":false,"zero":false},"axis":{"orient":"left","title":"Individuals (N = 123)","titleX":-37,"titleY":259}}}},
{"data":{"name":"lb"},"mark":{"type":"rule","color":"#999999","strokeWidth":1.5},
"encoding":{"x":{"datum":0,"scale":{"domain":[0,250],"nice":false,"zero":false}},"x2":{"datum":250},
"y":{"field":"v","type":"quantitative","scale":{"domain":[0,120],"nice":false,"zero":false},"axis":{"orient":"right","title":"b","titleX":-449,"titleY":-59.3,"titleAngle":0,"titleFontSize":40,"titleFontWeight":"bold","titleAlign":"center","titleBaseline":"alphabetic"}}}},
{"data":{"name":"cb"},"mark":{"type":"text","align":"left","baseline":"middle","dx":9,"fontSize":12,"color":"#808080"},
"encoding":{"x":{"datum":250,"scale":{"domain":[0,250],"nice":false,"zero":false}},"y":{"field":"m","type":"quantitative","scale":{"domain":[0,120],"nice":false,"zero":false},"axis":null},"text":{"field":"c"}}},
{"data":{"values":[{"t":"Chromosomes"}]},"mark":{"type":"text","angle":90,"align":"center","baseline":"middle","dx":259,"dy":-48,"fontSize":29,"color":"#808080"},
"encoding":{"x":{"datum":250,"scale":{"domain":[0,250],"nice":false,"zero":false}},"y":{"datum":120,"scale":{"domain":[0,120],"nice":false,"zero":false},"axis":null},"text":{"field":"t"}}},
{"data":{"values":[{"t":"5 Mb < ROH < 10 Mb"}]},"mark":{"type":"text","align":"center","baseline":"alphabetic","dy":-55,"fontSize":29,"color":"#000000"},
"encoding":{"x":{"datum":125,"scale":{"domain":[0,250],"nice":false,"zero":false}},"y":{"datum":120,"scale":{"domain":[0,120],"nice":false,"zero":false},"axis":null},"text":{"field":"t"}}},
{"data":{"values":[{"t":"761 segments (19.7%)"}]},"mark":{"type":"text","align":"center","baseline":"alphabetic","dy":-20,"fontSize":29,"color":"#000000"},
"encoding":{"x":{"datum":125,"scale":{"domain":[0,250],"nice":false,"zero":false}},"y":{"datum":120,"scale":{"domain":[0,120],"nice":false,"zero":false},"axis":null},"text":{"field":"t"}}}
]},
{"width":412.5,"height":478,
"resolve":{"scale":{"y":"independent"}},
"layer":[
{"data":{"name":"sc"},"mark":{"type":"rule","color":"#DAA520","strokeWidth":8,"strokeCap":"round"},
"encoding":{"x":{"field":"s","type":"quantitative","scale":{"domain":[0,250],"nice":false,"zero":false},"axis":{"values":[0,50,100,150,200,250],"labelExpr":"datum.value == 250 ? '' : datum.label","title":"Genomic position (Mb)"}},"x2":{"field":"e"},
"y":{"field":"y","type":"quantitative","scale":{"domain":[0,120],"nice":false,"zero":false},"axis":{"orient":"left","title":"Individuals (N = 125)","titleX":-28.5,"titleY":259}}}},
{"data":{"name":"lc"},"mark":{"type":"rule","color":"#999999","strokeWidth":1.5},
"encoding":{"x":{"datum":0,"scale":{"domain":[0,250],"nice":false,"zero":false}},"x2":{"datum":250},
"y":{"field":"v","type":"quantitative","scale":{"domain":[0,120],"nice":false,"zero":false},"axis":{"orient":"right","title":"c","titleX":-462,"titleY":-59.3,"titleAngle":0,"titleFontSize":40,"titleFontWeight":"bold","titleAlign":"center","titleBaseline":"alphabetic"}}}},
{"data":{"name":"cc"},"mark":{"type":"text","align":"left","baseline":"middle","dx":7,"fontSize":12,"color":"#808080"},
"encoding":{"x":{"datum":250,"scale":{"domain":[0,250],"nice":false,"zero":false}},"y":{"field":"m","type":"quantitative","scale":{"domain":[0,120],"nice":false,"zero":false},"axis":null},"text":{"field":"c"}}},
{"data":{"values":[{"t":"Chromosomes"}]},"mark":{"type":"text","angle":90,"align":"center","baseline":"middle","dx":259,"dy":-44,"fontSize":29,"color":"#808080"},
"encoding":{"x":{"datum":250,"scale":{"domain":[0,250],"nice":false,"zero":false}},"y":{"datum":120,"scale":{"domain":[0,120],"nice":false,"zero":false},"axis":null},"text":{"field":"t"}}},
{"data":{"values":[{"t":"10 Mb < ROH < 20 Mb"}]},"mark":{"type":"text","align":"center","baseline":"alphabetic","dy":-55,"fontSize":29,"color":"#000000"},
"encoding":{"x":{"datum":125,"scale":{"domain":[0,250],"nice":false,"zero":false}},"y":{"datum":120,"scale":{"domain":[0,120],"nice":false,"zero":false},"axis":null},"text":{"field":"t"}}},
{"data":{"values":[{"t":"846 segments (21.9%)"}]},"mark":{"type":"text","align":"center","baseline":"alphabetic","dy":-20,"fontSize":29,"color":"#000000"},
"encoding":{"x":{"datum":125,"scale":{"domain":[0,250],"nice":false,"zero":false}},"y":{"datum":120,"scale":{"domain":[0,120],"nice":false,"zero":false},"axis":null},"text":{"field":"t"}}}
]}
],"spacing":170.5,"bounds":"flush"},
{"width":412.5,"height":478,
"resolve":{"scale":{"y":"independent"}},
"layer":[
{"data":{"name":"sd"},"mark":{"type":"rule","color":"#CDC673","strokeWidth":8,"strokeCap":"round"},
"encoding":{"x":{"field":"s","type":"quantitative","scale":{"domain":[0,250],"nice":false,"zero":false},"axis":{"values":[0,50,100,150,200,250],"labelExpr":"datum.value == 250 ? '' : datum.label","title":"Genomic position (Mb)"}},"x2":{"field":"e"},
"y":{"field":"y","type":"quantitative","scale":{"domain":[0,120],"nice":false,"zero":false},"axis":{"orient":"left","title":"Individuals (N = 125)","titleX":-39,"titleY":259}}}},
{"data":{"name":"ld"},"mark":{"type":"rule","color":"#999999","strokeWidth":1.5},
"encoding":{"x":{"datum":0,"scale":{"domain":[0,250],"nice":false,"zero":false}},"x2":{"datum":250},
"y":{"field":"v","type":"quantitative","scale":{"domain":[0,120],"nice":false,"zero":false},"axis":{"orient":"right","title":"d","titleX":-454.5,"titleY":-77.5,"titleAngle":0,"titleFontSize":40,"titleFontWeight":"bold","titleAlign":"center","titleBaseline":"alphabetic"}}}},
{"data":{"name":"cd"},"mark":{"type":"text","align":"left","baseline":"middle","dx":6,"fontSize":10.5,"color":"#808080"},
"encoding":{"x":{"datum":250,"scale":{"domain":[0,250],"nice":false,"zero":false}},"y":{"field":"m","type":"quantitative","scale":{"domain":[0,120],"nice":false,"zero":false},"axis":null},"text":{"field":"c"}}},
{"data":{"values":[{"t":"Chromosomes"}]},"mark":{"type":"text","angle":90,"align":"center","baseline":"middle","dx":259,"dy":-43,"fontSize":29,"color":"#808080"},
"encoding":{"x":{"datum":250,"scale":{"domain":[0,250],"nice":false,"zero":false}},"y":{"datum":120,"scale":{"domain":[0,120],"nice":false,"zero":false},"axis":null},"text":{"field":"t"}}},
{"data":{"values":[{"t":"20 Mb < ROH < 50 Mb"}]},"mark":{"type":"text","align":"center","baseline":"alphabetic","dy":-72,"fontSize":29,"color":"#000000"},
"encoding":{"x":{"datum":125,"scale":{"domain":[0,250],"nice":false,"zero":false}},"y":{"datum":120,"scale":{"domain":[0,120],"nice":false,"zero":false},"axis":null},"text":{"field":"t"}}},
{"data":{"values":[{"t":"847 segments (21.9%)"}]},"mark":{"type":"text","align":"center","baseline":"alphabetic","dy":-37.5,"fontSize":29,"color":"#000000"},
"encoding":{"x":{"datum":125,"scale":{"domain":[0,250],"nice":false,"zero":false}},"y":{"datum":120,"scale":{"domain":[0,120],"nice":false,"zero":false},"axis":null},"text":{"field":"t"}}}
]},
{"hconcat":[
{"width":412.5,"height":478,
"resolve":{"scale":{"y":"independent"}},
"layer":[
{"data":{"name":"se"},"mark":{"type":"rule","color":"#ADD8E6","strokeWidth":6.5,"strokeCap":"round"},
"encoding":{"x":{"field":"s","type":"quantitative","scale":{"domain":[0,250],"nice":false,"zero":false},"axis":{"values":[0,50,100,150,200,250],"labelExpr":"datum.value == 250 ? '' : datum.label","title":"Genomic position (Mb)"}},"x2":{"field":"e"},
"y":{"field":"y","type":"quantitative","scale":{"domain":[0,120],"nice":false,"zero":false},"axis":{"orient":"left","title":"Individuals (N = 79)","titleX":-37,"titleY":259}}}},
{"data":{"name":"le"},"mark":{"type":"rule","color":"#999999","strokeWidth":1.5},
"encoding":{"x":{"datum":0,"scale":{"domain":[0,250],"nice":false,"zero":false}},"x2":{"datum":250},
"y":{"field":"v","type":"quantitative","scale":{"domain":[0,120],"nice":false,"zero":false},"axis":{"orient":"right","title":"e","titleX":-449.5,"titleY":-78.5,"titleAngle":0,"titleFontSize":40,"titleFontWeight":"bold","titleAlign":"center","titleBaseline":"alphabetic"}}}},
{"data":{"name":"ce"},"mark":{"type":"text","align":"left","baseline":"middle","dx":7,"fontSize":12,"color":"#808080"},
"encoding":{"x":{"datum":250,"scale":{"domain":[0,250],"nice":false,"zero":false}},"y":{"field":"m","type":"quantitative","scale":{"domain":[0,120],"nice":false,"zero":false},"axis":null},"text":{"field":"c"}}},
{"data":{"values":[{"t":"Chromosomes"}]},"mark":{"type":"text","angle":90,"align":"center","baseline":"middle","dx":259,"dy":-47,"fontSize":29,"color":"#808080"},
"encoding":{"x":{"datum":250,"scale":{"domain":[0,250],"nice":false,"zero":false}},"y":{"datum":120,"scale":{"domain":[0,120],"nice":false,"zero":false},"axis":null},"text":{"field":"t"}}},
{"data":{"values":[{"t":"50 Mb < ROH < 100 Mb"}]},"mark":{"type":"text","align":"center","baseline":"alphabetic","dy":-72,"fontSize":29,"color":"#000000"},
"encoding":{"x":{"datum":125,"scale":{"domain":[0,250],"nice":false,"zero":false}},"y":{"datum":120,"scale":{"domain":[0,120],"nice":false,"zero":false},"axis":null},"text":{"field":"t"}}},
{"data":{"values":[{"t":"145 segments (3.8%)"}]},"mark":{"type":"text","align":"center","baseline":"alphabetic","dy":-37.5,"fontSize":29,"color":"#000000"},
"encoding":{"x":{"datum":125,"scale":{"domain":[0,250],"nice":false,"zero":false}},"y":{"datum":120,"scale":{"domain":[0,120],"nice":false,"zero":false},"axis":null},"text":{"field":"t"}}}
]},
{"width":412.5,"height":478,
"resolve":{"scale":{"y":"independent"}},
"layer":[
{"data":{"name":"sf"},"mark":{"type":"rule","color":"#FF2500","strokeWidth":6,"strokeCap":"round"},
"encoding":{"x":{"field":"s","type":"quantitative","scale":{"domain":[0,250],"nice":false,"zero":false},"axis":{"values":[0,50,100,150,200,250],"labelExpr":"datum.value == 250 ? '' : datum.label","title":"Genomic position (Mb)"}},"x2":{"field":"e"},
"y":{"field":"y","type":"quantitative","scale":{"domain":[-0.5,5.5],"nice":false,"zero":false},"axis":{"orient":"left","title":"Individuals (N = 6)","titleX":-44,"titleY":260}}}},
{"data":{"name":"lf"},"mark":{"type":"rule","color":"#999999","strokeWidth":1.5},
"encoding":{"x":{"datum":0,"scale":{"domain":[0,250],"nice":false,"zero":false}},"x2":{"datum":250},
"y":{"field":"v","type":"quantitative","scale":{"domain":[-0.5,5.5],"nice":false,"zero":false},"axis":{"orient":"right","title":"f","titleX":-464,"titleY":-78.5,"titleAngle":0,"titleFontSize":40,"titleFontWeight":"bold","titleAlign":"center","titleBaseline":"alphabetic"}}}},
{"data":{"name":"cf"},"mark":{"type":"text","align":"left","baseline":"middle","dx":12,"fontSize":11,"color":"#808080"},
"encoding":{"x":{"datum":250,"scale":{"domain":[0,250],"nice":false,"zero":false}},"y":{"field":"m","type":"quantitative","scale":{"domain":[-0.5,5.5],"nice":false,"zero":false},"axis":null},"text":{"field":"c"}}},
{"data":{"values":[{"t":"Chromosomes"}]},"mark":{"type":"text","angle":90,"align":"center","baseline":"middle","dx":260,"dy":-44,"fontSize":29,"color":"#808080"},
"encoding":{"x":{"datum":250,"scale":{"domain":[0,250],"nice":false,"zero":false}},"y":{"datum":5.5,"scale":{"domain":[-0.5,5.5],"nice":false,"zero":false},"axis":null},"text":{"field":"t"}}},
{"data":{"values":[{"t":"ROH > 100 Mb"}]},"mark":{"type":"text","align":"center","baseline":"alphabetic","dy":-72,"fontSize":29,"color":"#000000"},
"encoding":{"x":{"datum":125,"scale":{"domain":[0,250],"nice":false,"zero":false}},"y":{"datum":5.5,"scale":{"domain":[-0.5,5.5],"nice":false,"zero":false},"axis":null},"text":{"field":"t"}}},
{"data":{"values":[{"t":"segments (0.2%)"}]},"mark":{"type":"text","align":"center","baseline":"alphabetic","dy":-37.5,"fontSize":29,"color":"#000000"},
"encoding":{"x":{"datum":125,"scale":{"domain":[0,250],"nice":false,"zero":false}},"y":{"datum":5.5,"scale":{"domain":[-0.5,5.5],"nice":false,"zero":false},"axis":null},"text":{"field":"t"}}},
{"data":{"name":"sf"},"mark":{"type":"text","text":"F","fontStyle":"italic","fontSize":29,"align":"left","baseline":"alphabetic","dx":-77,"dy":-13.5,"color":"#000000"},
"encoding":{"x":{"field":"m","type":"quantitative","scale":{"domain":[0,250],"nice":false,"zero":false}},"y":{"field":"y","type":"quantitative","scale":{"domain":[-0.5,5.5],"nice":false,"zero":false},"axis":null}}},
{"data":{"name":"sf"},"mark":{"type":"text","text":"ROH","fontSize":20,"align":"left","baseline":"alphabetic","dx":-57.5,"dy":-6,"color":"#000000"},
"encoding":{"x":{"field":"m","type":"quantitative","scale":{"domain":[0,250],"nice":false,"zero":false}},"y":{"field":"y","type":"quantitative","scale":{"domain":[-0.5,5.5],"nice":false,"zero":false},"axis":null}}},
{"data":{"name":"sf"},"mark":{"type":"text","fontSize":29,"align":"left","baseline":"alphabetic","dx":-5,"dy":-13.5,"color":"#000000"},
"encoding":{"x":{"field":"m","type":"quantitative","scale":{"domain":[0,250],"nice":false,"zero":false}},"y":{"field":"y","type":"quantitative","scale":{"domain":[-0.5,5.5],"nice":false,"zero":false},"axis":null},"text":{"field":"t"}}}
]}
],"spacing":169.5,"bounds":"flush"}
],
"columns":2,
"spacing":{"row":279.2,"column":146},
"bounds":"flush"
}
